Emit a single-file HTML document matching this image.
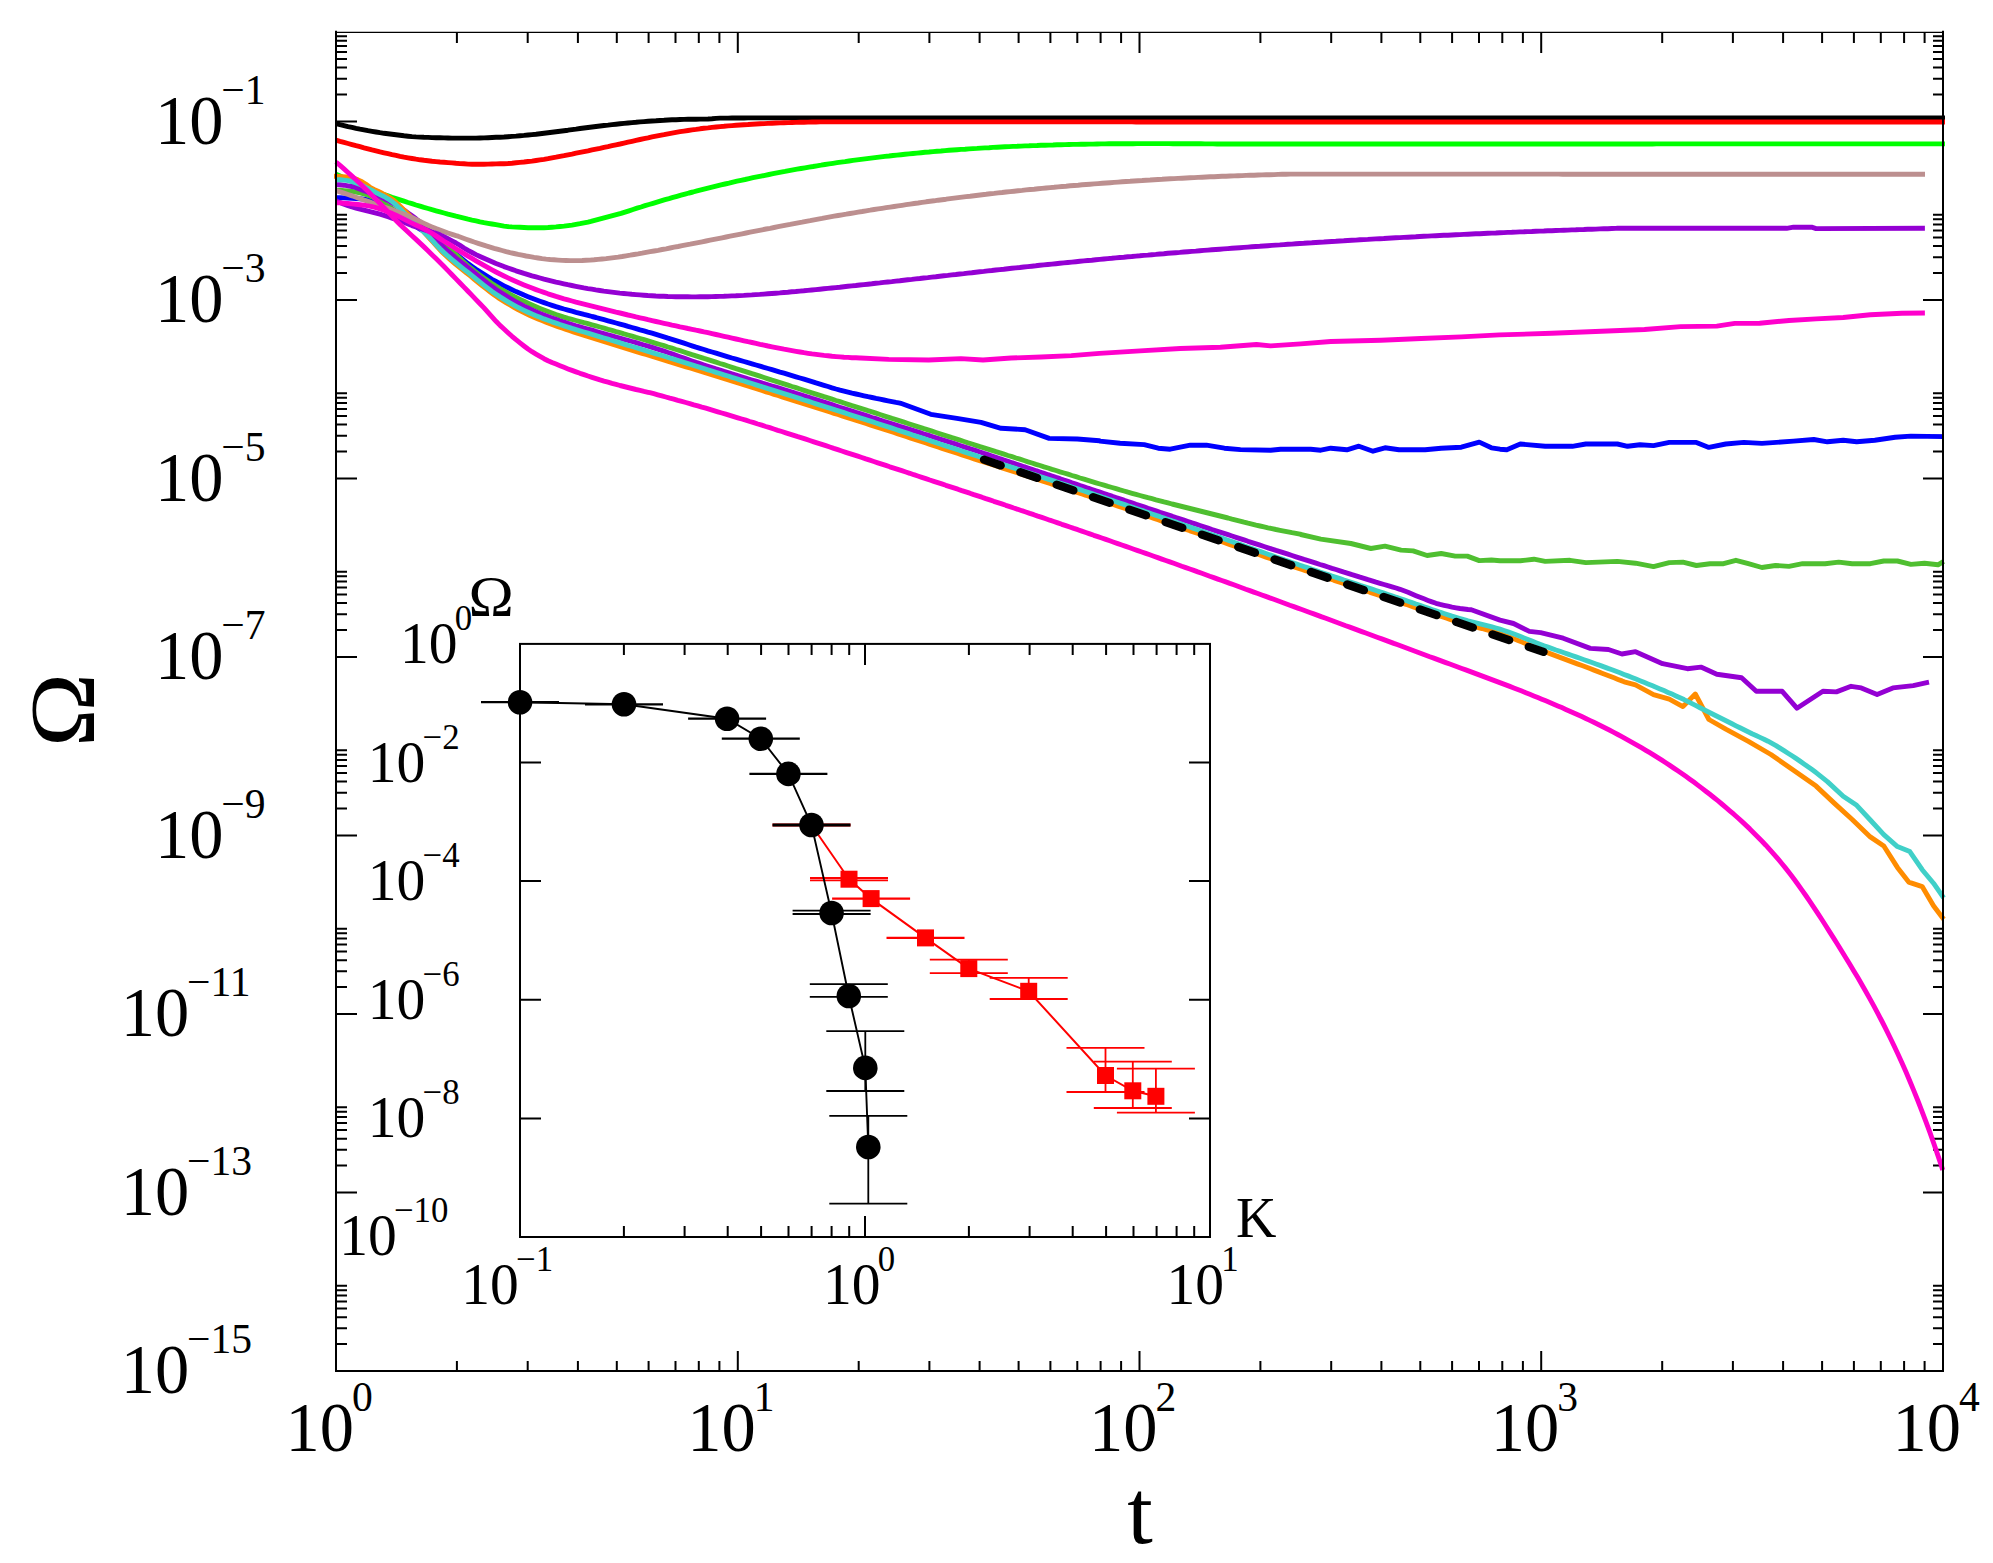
<!DOCTYPE html>
<html><head><meta charset="utf-8"><title>Omega vs t</title>
<style>html,body{margin:0;padding:0;background:#fff}svg{display:block}text{font-family:"Liberation Serif",serif;fill:#000}</style></head><body>
<svg width="1993" height="1563" viewBox="0 0 1993 1563">
<rect width="1993" height="1563" fill="#fff"/>
<g stroke="#000" stroke-width="2" fill="none" stroke-linecap="butt">
<path d="M456.9 1370.9 v-10 M456.9 32.1 v11 M527.7 1370.9 v-10 M527.7 32.1 v11 M577.9 1370.9 v-10 M577.9 32.1 v11 M616.8 1370.9 v-10 M616.8 32.1 v11 M648.6 1370.9 v-10 M648.6 32.1 v11 M675.5 1370.9 v-10 M675.5 32.1 v11 M698.8 1370.9 v-10 M698.8 32.1 v11 M719.4 1370.9 v-10 M719.4 32.1 v11 M737.8 1370.9 v-20 M737.8 32.1 v21 M858.7 1370.9 v-10 M858.7 32.1 v11 M929.4 1370.9 v-10 M929.4 32.1 v11 M979.6 1370.9 v-10 M979.6 32.1 v11 M1018.6 1370.9 v-10 M1018.6 32.1 v11 M1050.4 1370.9 v-10 M1050.4 32.1 v11 M1077.3 1370.9 v-10 M1077.3 32.1 v11 M1100.6 1370.9 v-10 M1100.6 32.1 v11 M1121.1 1370.9 v-10 M1121.1 32.1 v11 M1139.5 1370.9 v-20 M1139.5 32.1 v21 M1260.4 1370.9 v-10 M1260.4 32.1 v11 M1331.2 1370.9 v-10 M1331.2 32.1 v11 M1381.4 1370.9 v-10 M1381.4 32.1 v11 M1420.3 1370.9 v-10 M1420.3 32.1 v11 M1452.1 1370.9 v-10 M1452.1 32.1 v11 M1479 1370.9 v-10 M1479 32.1 v11 M1502.3 1370.9 v-10 M1502.3 32.1 v11 M1522.9 1370.9 v-10 M1522.9 32.1 v11 M1541.2 1370.9 v-20 M1541.2 32.1 v21 M1662.2 1370.9 v-10 M1662.2 32.1 v11 M1732.9 1370.9 v-10 M1732.9 32.1 v11 M1783.1 1370.9 v-10 M1783.1 32.1 v11 M1822.1 1370.9 v-10 M1822.1 32.1 v11 M1853.9 1370.9 v-10 M1853.9 32.1 v11 M1880.8 1370.9 v-10 M1880.8 32.1 v11 M1904.1 1370.9 v-10 M1904.1 32.1 v11 M1924.6 1370.9 v-10 M1924.6 32.1 v11 M336.0 121.4 h21 M1943.0 121.4 h-20 M336.0 94.5 h11 M1943.0 94.5 h-10 M336.0 78.8 h11 M1943.0 78.8 h-10 M336.0 67.6 h11 M1943.0 67.6 h-10 M336.0 59 h11 M1943.0 59 h-10 M336.0 51.9 h11 M1943.0 51.9 h-10 M336.0 45.9 h11 M1943.0 45.9 h-10 M336.0 40.7 h11 M1943.0 40.7 h-10 M336.0 36.2 h11 M1943.0 36.2 h-10 M336.0 299.9 h21 M1943.0 299.9 h-20 M336.0 273 h11 M1943.0 273 h-10 M336.0 257.3 h11 M1943.0 257.3 h-10 M336.0 246.1 h11 M1943.0 246.1 h-10 M336.0 237.5 h11 M1943.0 237.5 h-10 M336.0 230.4 h11 M1943.0 230.4 h-10 M336.0 224.4 h11 M1943.0 224.4 h-10 M336.0 219.3 h11 M1943.0 219.3 h-10 M336.0 214.7 h11 M1943.0 214.7 h-10 M336.0 478.4 h21 M1943.0 478.4 h-20 M336.0 451.5 h11 M1943.0 451.5 h-10 M336.0 435.8 h11 M1943.0 435.8 h-10 M336.0 424.6 h11 M1943.0 424.6 h-10 M336.0 416 h11 M1943.0 416 h-10 M336.0 408.9 h11 M1943.0 408.9 h-10 M336.0 402.9 h11 M1943.0 402.9 h-10 M336.0 397.8 h11 M1943.0 397.8 h-10 M336.0 393.2 h11 M1943.0 393.2 h-10 M336.0 656.9 h21 M1943.0 656.9 h-20 M336.0 630 h11 M1943.0 630 h-10 M336.0 614.3 h11 M1943.0 614.3 h-10 M336.0 603.1 h11 M1943.0 603.1 h-10 M336.0 594.5 h11 M1943.0 594.5 h-10 M336.0 587.4 h11 M1943.0 587.4 h-10 M336.0 581.4 h11 M1943.0 581.4 h-10 M336.0 576.3 h11 M1943.0 576.3 h-10 M336.0 571.7 h11 M1943.0 571.7 h-10 M336.0 835.4 h21 M1943.0 835.4 h-20 M336.0 808.5 h11 M1943.0 808.5 h-10 M336.0 792.8 h11 M1943.0 792.8 h-10 M336.0 781.6 h11 M1943.0 781.6 h-10 M336.0 773 h11 M1943.0 773 h-10 M336.0 765.9 h11 M1943.0 765.9 h-10 M336.0 760 h11 M1943.0 760 h-10 M336.0 754.8 h11 M1943.0 754.8 h-10 M336.0 750.2 h11 M1943.0 750.2 h-10 M336.0 1013.9 h21 M1943.0 1013.9 h-20 M336.0 987 h11 M1943.0 987 h-10 M336.0 971.3 h11 M1943.0 971.3 h-10 M336.0 960.2 h11 M1943.0 960.2 h-10 M336.0 951.5 h11 M1943.0 951.5 h-10 M336.0 944.4 h11 M1943.0 944.4 h-10 M336.0 938.5 h11 M1943.0 938.5 h-10 M336.0 933.3 h11 M1943.0 933.3 h-10 M336.0 928.7 h11 M1943.0 928.7 h-10 M336.0 1192.4 h21 M1943.0 1192.4 h-20 M336.0 1165.5 h11 M1943.0 1165.5 h-10 M336.0 1149.8 h11 M1943.0 1149.8 h-10 M336.0 1138.7 h11 M1943.0 1138.7 h-10 M336.0 1130 h11 M1943.0 1130 h-10 M336.0 1122.9 h11 M1943.0 1122.9 h-10 M336.0 1117 h11 M1943.0 1117 h-10 M336.0 1111.8 h11 M1943.0 1111.8 h-10 M336.0 1107.2 h11 M1943.0 1107.2 h-10 M336.0 1344 h11 M1943.0 1344 h-10 M336.0 1328.3 h11 M1943.0 1328.3 h-10 M336.0 1317.2 h11 M1943.0 1317.2 h-10 M336.0 1308.5 h11 M1943.0 1308.5 h-10 M336.0 1301.4 h11 M1943.0 1301.4 h-10 M336.0 1295.5 h11 M1943.0 1295.5 h-10 M336.0 1290.3 h11 M1943.0 1290.3 h-10 M336.0 1285.7 h11 M1943.0 1285.7 h-10"/>
</g>
<g fill="none" stroke-width="4.9" stroke-linejoin="round" stroke-linecap="butt">
<path d="M336 123.7 L340 124.7 L344 125.6 L348 126.6 L352 127.4 L356 128.3 L360 129.1 L364 129.8 L368 130.6 L372 131.3 L376 132 L380 132.7 L384 133.3 L388 133.8 L392 134.3 L396 134.8 L400 135.3 L404 135.8 L408 136.2 L412 136.6 L416 136.9 L420 137.1 L424 137.3 L428 137.4 L432 137.6 L436 137.7 L440 137.8 L444 137.9 L448 138 L452 138.1 L456 138.1 L460 138.1 L464 138.1 L468 138.1 L472 138.1 L476 138.1 L480 138 L484 137.9 L488 137.7 L492 137.5 L496 137.3 L500 137.2 L504 137 L508 136.7 L512 136.4 L516 136.1 L520 135.7 L524 135.4 L528 135 L532 134.6 L536 134.2 L540 133.7 L544 133.2 L548 132.7 L552 132.2 L556 131.7 L560 131.2 L564 130.7 L568 130.2 L572 129.6 L576 129.1 L580 128.5 L584 128 L588 127.5 L592 127 L596 126.5 L600 126 L604 125.5 L608 125.1 L612 124.6 L616 124.2 L620 123.8 L624 123.4 L628 123 L632 122.6 L636 122.3 L640 121.9 L644 121.6 L648 121.3 L652 121 L656 120.8 L660 120.5 L664 120.3 L668 120 L672 119.8 L676 119.7 L680 119.5 L684 119.4 L688 119.3 L692 119.3 L696 119.2 L700 119.1 L704 119.1 L708 119 L712 118.8 L716 118.4 L720 118.1 L724 118.1 L728 118.1 L732 118 L736 118 L740 118 L744 118 L748 117.9 L752 117.9 L756 117.9 L760 117.9 L764 117.9 L768 117.9 L772 117.9 L776 117.9 L780 117.9 L784 117.9 L788 117.9 L792 117.9 L796 117.9 L800 117.9 L804 117.9 L808 117.9 L812 117.9 L816 117.9 L820 117.9 L824 117.9 L828 117.9 L832 117.9 L836 117.9 L840 117.9 L844 117.9 L848 117.9 L852 117.9 L856 117.9 L860 117.9 L864 117.9 L868 117.9 L872 117.9 L876 117.9 L880 117.9 L884 117.9 L888 117.9 L892 117.9 L896 117.9 L900 117.9 L904 117.9 L908 117.9 L912 117.9 L916 117.9 L920 117.9 L924 117.9 L928 117.9 L932 117.9 L936 117.9 L940 117.9 L944 117.9 L948 117.9 L952 117.9 L956 117.9 L960 117.9 L964 117.9 L968 117.9 L972 117.9 L976 117.9 L980 117.9 L984 117.9 L988 117.9 L992 117.9 L996 117.9 L1000 117.9 L1004 117.9 L1008 117.9 L1012 117.9 L1016 117.9 L1020 117.9 L1024 117.9 L1028 117.9 L1032 117.9 L1036 117.9 L1040 117.9 L1044 117.9 L1048 117.9 L1052 117.9 L1056 117.9 L1060 117.9 L1064 117.9 L1068 117.9 L1072 117.9 L1076 117.9 L1080 117.9 L1084 117.9 L1088 117.9 L1092 117.9 L1096 117.9 L1100 117.9 L1104 117.9 L1108 117.9 L1112 117.9 L1116 117.9 L1120 117.9 L1124 117.9 L1128 117.9 L1132 117.9 L1136 117.9 L1140 117.9 L1144 117.9 L1148 117.9 L1152 117.9 L1156 117.9 L1160 117.9 L1164 117.9 L1168 117.9 L1172 117.9 L1176 117.9 L1180 117.9 L1184 117.9 L1188 117.9 L1192 117.9 L1196 117.9 L1200 117.9 L1204 117.9 L1208 117.9 L1212 117.9 L1216 117.9 L1220 117.9 L1224 117.9 L1228 117.9 L1232 117.9 L1236 117.9 L1240 117.9 L1244 117.9 L1248 117.9 L1252 117.9 L1256 117.9 L1260 117.9 L1264 117.9 L1268 117.9 L1272 117.9 L1276 117.9 L1280 117.9 L1284 117.9 L1288 117.9 L1292 117.9 L1296 117.9 L1300 117.9 L1304 117.9 L1308 117.9 L1312 117.9 L1316 117.9 L1320 117.9 L1324 117.9 L1328 117.9 L1332 117.9 L1336 117.9 L1340 117.9 L1344 117.9 L1348 117.9 L1352 117.9 L1356 117.9 L1360 117.9 L1364 117.9 L1368 117.9 L1372 117.9 L1376 117.9 L1380 117.9 L1384 117.9 L1388 117.9 L1392 117.9 L1396 117.9 L1400 117.9 L1404 117.9 L1408 117.9 L1412 117.9 L1416 117.9 L1420 117.9 L1424 117.9 L1428 117.9 L1432 117.9 L1436 117.9 L1440 117.9 L1444 117.9 L1448 117.9 L1452 117.9 L1456 117.9 L1460 117.9 L1464 117.9 L1468 117.9 L1472 117.9 L1476 117.9 L1480 117.9 L1484 117.9 L1488 117.9 L1492 117.9 L1496 117.9 L1500 117.9 L1504 117.9 L1508 117.9 L1512 117.9 L1516 117.9 L1520 117.9 L1524 117.9 L1528 117.9 L1532 117.9 L1536 117.9 L1540 117.9 L1544 117.9 L1548 117.9 L1552 117.9 L1556 117.9 L1560 117.9 L1564 117.9 L1568 117.9 L1572 117.9 L1576 117.9 L1580 117.9 L1584 117.9 L1588 117.9 L1592 117.9 L1596 117.9 L1600 117.9 L1604 117.9 L1608 117.9 L1612 117.9 L1616 117.9 L1620 117.9 L1624 117.9 L1628 117.9 L1632 117.9 L1636 117.9 L1640 117.9 L1644 117.9 L1648 117.9 L1652 117.9 L1656 117.9 L1660 117.9 L1664 117.9 L1668 117.9 L1672 117.9 L1676 117.9 L1680 117.9 L1684 117.9 L1688 117.9 L1692 117.9 L1696 117.9 L1700 117.9 L1704 117.9 L1708 117.9 L1712 117.9 L1716 117.9 L1720 117.9 L1724 117.9 L1728 117.9 L1732 117.9 L1736 117.9 L1740 117.9 L1744 117.9 L1748 117.9 L1752 117.9 L1756 117.9 L1760 117.9 L1764 117.9 L1768 117.9 L1772 117.9 L1776 117.9 L1780 117.9 L1784 117.9 L1788 117.9 L1792 117.9 L1796 117.9 L1800 117.9 L1804 117.9 L1808 117.9 L1812 117.9 L1816 117.9 L1820 117.9 L1824 117.9 L1828 117.9 L1832 117.9 L1836 117.9 L1840 117.9 L1844 117.9 L1848 117.9 L1852 117.9 L1856 117.9 L1860 117.9 L1864 117.9 L1868 117.9 L1872 117.9 L1876 117.9 L1880 117.9 L1884 117.9 L1888 117.9 L1892 117.9 L1896 117.9 L1900 117.9 L1904 117.9 L1908 117.9 L1912 117.9 L1916 117.9 L1920 117.9 L1924 117.9 L1928 117.9 L1932 117.9 L1936 117.9 L1940 117.9 L1944 117.9 L1945 117.9" stroke="#000000"/>
<path d="M336 140.1 L340 141.3 L344 142.4 L348 143.5 L352 144.6 L356 145.7 L360 146.7 L364 147.8 L368 148.8 L372 149.9 L376 150.9 L380 151.9 L384 152.8 L388 153.7 L392 154.6 L396 155.4 L400 156.3 L404 157.1 L408 157.8 L412 158.5 L416 159.2 L420 159.8 L424 160.3 L428 160.7 L432 161.2 L436 161.6 L440 162 L444 162.3 L448 162.6 L452 162.9 L456 163.3 L460 163.6 L464 163.8 L468 164.1 L472 164.2 L476 164.2 L480 164.2 L484 164.2 L488 164.1 L492 164 L496 163.9 L500 163.8 L504 163.7 L508 163.5 L512 163.2 L516 162.8 L520 162.4 L524 162 L528 161.5 L532 161.1 L536 160.5 L540 159.9 L544 159.3 L548 158.6 L552 157.8 L556 157.1 L560 156.3 L564 155.6 L568 154.8 L572 154.1 L576 153.2 L580 152.4 L584 151.6 L588 150.8 L592 149.9 L596 149.1 L600 148.3 L604 147.4 L608 146.6 L612 145.7 L616 144.8 L620 144 L624 143.1 L628 142.2 L632 141.3 L636 140.4 L640 139.5 L644 138.6 L648 137.8 L652 136.9 L656 136.1 L660 135.3 L664 134.6 L668 133.8 L672 133.1 L676 132.4 L680 131.7 L684 131.1 L688 130.5 L692 129.9 L696 129.4 L700 128.8 L704 128.3 L708 127.9 L712 127.4 L716 127 L720 126.6 L724 126.3 L728 125.9 L732 125.6 L736 125.3 L740 125 L744 124.7 L748 124.5 L752 124.2 L756 124 L760 123.8 L764 123.6 L768 123.4 L772 123.2 L776 123 L780 122.9 L784 122.7 L788 122.6 L792 122.5 L796 122.4 L800 122.3 L804 122.2 L808 122.1 L812 122 L816 122 L820 121.9 L824 121.9 L828 121.9 L832 121.9 L836 121.9 L840 121.9 L844 121.9 L848 121.9 L852 121.9 L856 121.9 L860 121.9 L864 121.9 L868 121.9 L872 121.9 L876 121.9 L880 121.9 L884 121.9 L888 121.9 L892 121.9 L896 121.9 L900 121.9 L904 121.9 L908 121.9 L912 121.9 L916 121.9 L920 121.9 L924 121.9 L928 121.9 L932 121.9 L936 121.9 L940 121.9 L944 121.9 L948 121.9 L952 121.9 L956 121.9 L960 121.9 L964 121.9 L968 121.9 L972 121.9 L976 121.9 L980 121.9 L984 121.9 L988 121.9 L992 121.9 L996 121.9 L1000 121.9 L1004 121.9 L1008 121.9 L1012 121.9 L1016 121.9 L1020 121.9 L1024 121.9 L1028 121.9 L1032 121.9 L1036 121.9 L1040 121.9 L1044 121.9 L1048 121.9 L1052 121.9 L1056 121.9 L1060 121.9 L1064 121.9 L1068 121.9 L1072 121.9 L1076 121.9 L1080 121.9 L1084 121.9 L1088 121.9 L1092 121.9 L1096 121.9 L1100 121.9 L1104 121.9 L1108 121.9 L1112 121.9 L1116 121.9 L1120 121.9 L1124 121.9 L1128 121.9 L1132 121.9 L1136 122 L1140 122 L1144 122 L1148 122 L1152 122 L1156 122 L1160 122 L1164 122 L1168 122 L1172 122 L1176 122 L1180 122 L1184 122 L1188 122 L1192 122 L1196 122 L1200 122 L1204 122 L1208 122 L1212 122 L1216 122 L1220 122 L1224 122 L1228 122 L1232 122 L1236 122 L1240 122 L1244 122 L1248 122 L1252 122 L1256 122 L1260 122 L1264 122 L1268 122 L1272 122 L1276 122 L1280 122 L1284 122 L1288 122 L1292 122 L1296 122 L1300 122 L1304 122 L1308 122 L1312 122 L1316 122 L1320 122 L1324 122 L1328 122 L1332 122 L1336 122 L1340 122 L1344 122 L1348 122 L1352 122 L1356 122 L1360 122 L1364 122 L1368 122 L1372 122 L1376 122 L1380 122 L1384 122 L1388 122 L1392 122 L1396 122 L1400 122 L1404 122 L1408 122 L1412 122 L1416 122 L1420 122 L1424 122 L1428 122 L1432 122 L1436 122 L1440 122 L1444 122 L1448 122 L1452 122 L1456 122 L1460 122 L1464 122 L1468 122 L1472 122 L1476 122 L1480 122 L1484 122 L1488 122 L1492 122 L1496 122 L1500 122 L1504 122 L1508 122 L1512 122 L1516 122 L1520 122 L1524 122 L1528 122 L1532 122 L1536 122 L1540 122 L1544 122 L1548 122 L1552 122 L1556 122 L1560 122 L1564 122 L1568 122 L1572 122 L1576 122 L1580 122 L1584 122 L1588 122 L1592 122 L1596 122 L1600 122 L1604 122 L1608 122 L1612 122 L1616 122 L1620 122 L1624 122 L1628 122 L1632 122 L1636 122 L1640 122 L1644 122 L1648 122 L1652 122 L1656 122 L1660 122 L1664 122 L1668 122 L1672 122 L1676 122 L1680 122 L1684 122 L1688 122 L1692 122 L1696 122 L1700 122 L1704 122 L1708 122 L1712 122 L1716 122 L1720 122 L1724 122 L1728 122 L1732 122 L1736 122 L1740 122 L1744 122 L1748 122 L1752 122 L1756 122 L1760 122 L1764 122 L1768 122 L1772 122 L1776 122 L1780 122 L1784 122 L1788 122 L1792 122 L1796 122 L1800 122 L1804 122 L1808 122 L1812 122 L1816 122 L1820 122 L1824 122 L1828 122 L1832 122 L1836 122 L1840 122 L1844 122 L1848 122 L1852 122 L1856 122 L1860 122 L1864 122 L1868 122 L1872 122 L1876 122 L1880 122 L1884 122 L1888 122 L1892 122 L1896 122 L1900 122 L1904 122 L1908 122 L1912 122 L1916 122 L1920 122 L1924 122 L1928 122 L1932 122 L1936 122 L1940 122 L1944 122 L1945 122" stroke="#ff0000"/>
<path d="M336 174.1 L340 176 L344 177.9 L348 179.8 L352 181.6 L356 183.4 L360 185.1 L364 186.8 L368 188.4 L372 189.9 L376 191.5 L380 193 L384 194.5 L388 195.9 L392 197.3 L396 198.6 L400 199.9 L404 201.2 L408 202.5 L412 203.7 L416 205 L420 206.2 L424 207.4 L428 208.5 L432 209.7 L436 210.8 L440 211.9 L444 213 L448 214.1 L452 215.1 L456 216.2 L460 217.2 L464 218.2 L468 219.2 L472 220.1 L476 220.9 L480 221.8 L484 222.6 L488 223.3 L492 224 L496 224.7 L500 225.4 L504 226.1 L508 226.6 L512 226.9 L516 227.1 L520 227.3 L524 227.5 L528 227.7 L532 227.8 L536 227.8 L540 227.8 L544 227.7 L548 227.5 L552 227.2 L556 226.9 L560 226.5 L564 226.1 L568 225.6 L572 225.1 L576 224.4 L580 223.7 L584 222.9 L588 222.1 L590.9 221.4 L621 213.4 L625 212.1 L629 210.8 L633 209.5 L637 208.2 L641 207 L645 205.7 L649 204.5 L653 203.3 L657 202.1 L661 200.9 L665 199.7 L669 198.6 L673 197.4 L677 196.3 L681 195.2 L685 194.1 L689 193 L693 192 L697 190.9 L701 189.9 L705 188.9 L709 187.9 L713 186.9 L717 185.9 L721 184.9 L725 184 L729 183.1 L733 182.1 L737 181.2 L741 180.3 L745 179.5 L749 178.6 L753 177.7 L757 176.9 L761 176.1 L765 175.3 L769 174.5 L773 173.7 L777 172.9 L781 172.1 L785 171.4 L789 170.6 L793 169.9 L797 169.2 L801 168.5 L805 167.8 L809 167.1 L813 166.5 L817 165.8 L821 165.2 L825 164.5 L829 163.9 L833 163.3 L837 162.7 L841 162.1 L845 161.6 L849 161 L853 160.4 L857 159.9 L861 159.4 L865 158.9 L869 158.4 L873 157.9 L877 157.4 L881 156.9 L885 156.4 L889 156 L893 155.5 L897 155.1 L901 154.7 L905 154.3 L909 153.9 L913 153.5 L917 153.1 L921 152.7 L925 152.3 L929 152 L933 151.6 L937 151.3 L941 151 L945 150.6 L949 150.3 L953 150 L957 149.7 L961 149.4 L965 149.2 L969 148.9 L973 148.6 L977 148.4 L981 148.1 L985 147.9 L989 147.7 L993 147.4 L997 147.2 L1001 147 L1005 146.8 L1009 146.6 L1013 146.4 L1017 146.3 L1021 146.1 L1025 145.9 L1029 145.8 L1033 145.6 L1037 145.5 L1041 145.3 L1045 145.2 L1049 145.1 L1053 145 L1057 144.8 L1061 144.7 L1065 144.6 L1069 144.5 L1073 144.4 L1077 144.4 L1081 144.3 L1085 144.2 L1089 144.1 L1093 144.1 L1097 144 L1101 143.9 L1105 143.9 L1109 143.8 L1113 143.8 L1117 143.8 L1121 143.7 L1125 143.7 L1129 143.7 L1133 143.7 L1137 143.6 L1141 143.6 L1145 143.6 L1149 143.6 L1153 143.6 L1157 143.6 L1161 143.6 L1165 143.6 L1169 143.6 L1173 143.7 L1177 143.7 L1181 143.7 L1185 143.7 L1189 143.7 L1193 143.8 L1197 143.8 L1201 143.8 L1205 143.9 L1209 143.9 L1213 143.9 L1217 144 L1220.4 144 L1224.4 144 L1228.4 144 L1232.4 144 L1236.4 144 L1240.4 144 L1244.4 144 L1248.4 144 L1252.4 144 L1256.4 144 L1260.4 144 L1264.4 144 L1268.4 144 L1272.4 144 L1276.4 144 L1280.4 144 L1284.4 144 L1288.4 144 L1292.4 144 L1296.4 144 L1300.4 144 L1304.4 144 L1308.4 144 L1312.4 144 L1316.4 144 L1320.4 144 L1324.4 144 L1328.4 144 L1332.4 144 L1336.4 144 L1340.4 144 L1344.4 144 L1348.4 144 L1352.4 144 L1356.4 144 L1360.4 144 L1364.4 144 L1368.4 144 L1372.4 144 L1376.4 144 L1380.4 144 L1384.4 144 L1388.4 144 L1392.4 144 L1396.4 144 L1400.4 144 L1404.4 144 L1408.4 144 L1412.4 144 L1416.4 144 L1420.4 144 L1424.4 144 L1428.4 144 L1432.4 144 L1436.4 144 L1440.4 144 L1444.4 144 L1448.4 144 L1452.4 144 L1456.4 144 L1460.4 144 L1464.4 144 L1468.4 144 L1472.4 144 L1476.4 144 L1480.4 144 L1484.4 144 L1488.4 144 L1492.4 144 L1496.4 144 L1500.4 144 L1504.4 144 L1508.4 144 L1512.4 144 L1516.4 144 L1520.4 144 L1524.4 144 L1528.4 144 L1532.4 144 L1536.4 144 L1540.4 144 L1544.4 144 L1548.4 144 L1552.4 144 L1556.4 144 L1560.4 144 L1564.4 144 L1568.4 144 L1572.4 144 L1576.4 144 L1580.4 144 L1584.4 144 L1588.4 144 L1592.4 144 L1596.4 144 L1600.4 144 L1604.4 144 L1608.4 144 L1612.4 144 L1616.4 144 L1620.4 144 L1624.4 144 L1628.4 144 L1632.4 144 L1636.4 144 L1640.4 144 L1644.4 144 L1648.4 144 L1652.4 144 L1656.4 143.9 L1660.4 143.9 L1664.4 143.9 L1668.4 143.9 L1672.4 143.9 L1676.4 143.9 L1680.4 143.9 L1684.4 143.9 L1688.4 143.9 L1692.4 143.9 L1696.4 143.9 L1700.4 143.9 L1704.4 143.9 L1708.4 143.9 L1712.4 143.9 L1716.4 143.9 L1720.4 143.9 L1724.4 143.9 L1728.4 143.9 L1732.4 143.9 L1736.4 143.9 L1740.4 143.9 L1744.4 143.9 L1748.4 143.9 L1752.4 143.9 L1756.4 143.9 L1760.4 143.9 L1764.4 143.9 L1768.4 143.9 L1772.4 143.9 L1776.4 143.9 L1780.4 143.9 L1784.4 143.9 L1788.4 143.9 L1792.4 143.9 L1796.4 143.9 L1800.4 143.9 L1804.4 143.9 L1808.4 143.9 L1812.4 143.9 L1816.4 143.9 L1820.4 143.9 L1824.4 143.9 L1828.4 143.9 L1832.4 143.9 L1836.4 143.9 L1840.4 143.9 L1844.4 143.9 L1848.4 143.9 L1852.4 143.9 L1856.4 143.9 L1860.4 143.9 L1864.4 143.9 L1868.4 143.9 L1872.4 143.9 L1876.4 143.9 L1880.4 143.9 L1884.4 143.9 L1888.4 143.9 L1892.4 143.9 L1896.4 143.9 L1900.4 143.9 L1904.4 143.9 L1908.4 143.9 L1912.4 143.9 L1916.4 143.9 L1920.4 143.9 L1924.4 143.9 L1928.4 143.9 L1932.4 143.9 L1936.4 143.9 L1940.4 143.9 L1944.4 143.9 L1945 143.9" stroke="#00ff00"/>
<path d="M336 197.7 L340 197.8 L344 197.9 L348 198.1 L352 198.3 L356 198.5 L360 198.7 L364 199.1 L368 199.8 L372 201.3 L376 203.2 L380 205.1 L384 207 L388 208.9 L392 211 L396 213.2 L400 215.6 L404 218.2 L408 221 L412 223.8 L416 226.5 L420 229.1 L424 231.5 L428 233.8 L432 236.1 L436 238.7 L440 241.5 L444 244.5 L448 247.6 L452 250.7 L456 253.9 L460 257.2 L464 260.5 L468 263.6 L472 266.4 L476 269.2 L480 271.8 L484 274.4 L488 276.9 L492 279.3 L496 281.5 L500 283.7 L504 285.8 L508 287.8 L512 289.7 L516 291.6 L520 293.3 L524 295.1 L528 296.7 L532 298.3 L536 299.8 L540 301.2 L544 302.6 L548 304 L552 305.3 L556 306.6 L560 307.8 L564 309 L568 310.1 L572 311.2 L576 312.3 L580 313.3 L584 314.4 L588 315.4 L592 316.5 L596 317.5 L600 318.6 L604 319.7 L608 320.8 L612 321.9 L616 323 L620 324.1 L624 325.2 L628 326.4 L632 327.5 L636 328.6 L640 329.8 L644 330.9 L648 332.1 L652 333.2 L656 334.4 L660 335.6 L664 336.8 L668 338.1 L672 339.3 L676 340.6 L680 341.9 L684 343.2 L688 344.5 L692 345.8 L696 347.1 L700 348.3 L704 349.5 L708 350.8 L712 352 L716 353.2 L720 354.4 L724 355.6 L728 356.8 L732 358 L736 359.1 L740 360.3 L744 361.5 L748 362.7 L752 363.8 L756 365 L760 366.2 L764 367.4 L768 368.5 L772 369.7 L776 370.9 L780 372.1 L784 373.2 L788 374.4 L792 375.6 L796 376.8 L800 378 L804 379.2 L808 380.4 L812 381.6 L816 382.9 L820 384.1 L824 385.3 L828 386.5 L832 387.8 L836 389 L840 390.1 L844 391.1 L848 392.1 L852 393.1 L856 394 L860 394.9 L864 395.8 L868 396.7 L872 397.5 L876 398.4 L880 399.2 L884 400 L888 400.8 L892 401.6 L896 402.4 L900 403.1 L900.7 403.3 L930.8 414.3 L956.9 418.3 L981 422.3 L1001.1 428.3 L1025.1 429.7 L1049.2 438.4 L1077.3 439 L1099.4 440.8 L1100 441.1 L1120.1 443.2 L1144.2 444.6 L1158.2 448.2 L1170.2 449.2 L1190.3 445.2 L1206.4 445.2 L1224.4 448.2 L1240.5 449.6 L1270.6 450.2 L1280.6 449.2 L1310.7 449.2 L1320.8 450.2 L1330.8 448.2 L1346.9 449.8 L1358.9 446.2 L1373 451.2 L1385 447.8 L1399 449.8 L1425.1 449.8 L1441.2 448.2 L1461.3 447.2 L1479.3 442.1 L1491.4 447.8 L1500 449.2 L1506.8 449.7 L1520.3 444 L1545.2 446.3 L1572.3 446.3 L1585.8 444 L1617.4 444 L1627.6 446.3 L1640 444.7 L1653.5 445.6 L1669.3 442.4 L1696.4 442.4 L1708.9 447.4 L1725.8 444 L1743.8 442.4 L1761.9 443.4 L1793.5 441.1 L1813.8 439.5 L1827.4 441.8 L1843.2 440.2 L1856.7 441.8 L1874.8 440.2 L1895.1 437.3 L1910.9 436.1 L1943.7 436.6" stroke="#0000ff"/>
<path d="M336 190.1 L340 190.3 L344 190.6 L348 190.9 L352 191.4 L356 192 L360 192.8 L364 193.9 L368 195.1 L372 196.9 L376 198.9 L380 201.1 L384 203.4 L388 205.9 L392 208.6 L396 211.3 L400 214.1 L404 216.8 L408 219.7 L412 222.6 L416 225.4 L420 228.1 L424 230.5 L428 232.8 L432 235 L436 237.4 L440 240 L444 243.1 L448 246.6 L452 250.4 L456 254.4 L460 258.4 L464 262.2 L468 265.8 L472 269 L476 272.1 L480 275.1 L484 278 L488 280.8 L492 283.5 L496 286 L500 288.5 L504 290.8 L508 293.1 L512 295.3 L516 297.4 L520 299.4 L524 301.3 L528 303.2 L532 305 L536 306.7 L540 308.4 L544 310 L548 311.5 L552 313 L556 314.5 L560 315.8 L564 317.1 L568 318.3 L572 319.4 L576 320.5 L580 321.6 L584 322.7 L588 323.7 L592 324.8 L596 325.9 L600 327 L604 328.1 L608 329.3 L612 330.4 L616 331.6 L620 332.7 L624 333.9 L628 335 L632 336.2 L636 337.4 L640 338.5 L644 339.7 L648 340.9 L652 342.1 L656 343.3 L660 344.5 L664 345.7 L668 347 L672 348.2 L676 349.5 L680 350.7 L684 352 L688 353.3 L692 354.6 L696 355.8 L700 357.1 L704 358.4 L708 359.6 L712 360.9 L716 362.2 L720 363.5 L724 364.7 L728 366 L732 367.3 L736 368.6 L740 369.8 L744 371.1 L748 372.4 L752 373.7 L756 374.9 L760 376.2 L764 377.5 L768 378.8 L772 380.1 L776 381.3 L780 382.6 L784 383.9 L788 385.2 L792 386.5 L796 387.7 L800 389 L804 390.3 L808 391.6 L812 392.8 L816 394.1 L820 395.4 L824 396.7 L828 397.9 L832 399.2 L836 400.5 L840 401.7 L844 403 L848 404.3 L852 405.6 L856 406.8 L860 408.1 L864 409.4 L868 410.7 L872 411.9 L876 413.2 L880 414.5 L884 415.8 L888 417.1 L892 418.4 L896 419.6 L900 420.9 L904 422.2 L908 423.5 L912 424.8 L916 426.1 L920 427.4 L924 428.7 L928 429.9 L932 431.2 L936 432.5 L940 433.8 L944 435.1 L948 436.4 L952 437.7 L956 438.9 L960 440.2 L964 441.5 L968 442.8 L972 444 L976 445.3 L980 446.6 L984 447.8 L988 449.1 L992 450.4 L996 451.7 L1000 452.9 L1004 454.2 L1008 455.5 L1012 456.7 L1016 458 L1020 459.2 L1024 460.5 L1028 461.8 L1032 463 L1036 464.3 L1040 465.5 L1044 466.8 L1048 468 L1052 469.3 L1056 470.5 L1060 471.8 L1064 473 L1068 474.2 L1072 475.5 L1076 476.7 L1080 478 L1084 479.2 L1088 480.4 L1092 481.6 L1096 482.8 L1100 484 L1104 485.2 L1108 486.4 L1112 487.5 L1116 488.7 L1120 489.9 L1124 491 L1128 492.2 L1132 493.3 L1136 494.4 L1140 495.5 L1144 496.6 L1148 497.7 L1152 498.7 L1156 499.8 L1160 500.8 L1164 501.9 L1168 502.9 L1172 504 L1176 505 L1180 506 L1184 507 L1188 508 L1192 509 L1196 510 L1200 511 L1204 512 L1208 513 L1212 514 L1216 515 L1220 516 L1224 517 L1228 518 L1232 519.1 L1236 520.1 L1240 521.1 L1244 522.2 L1248 523.2 L1252 524.1 L1256 525.1 L1260 526 L1264 526.9 L1268 527.8 L1272 528.6 L1276 529.5 L1280 530.3 L1284 531.1 L1288 531.9 L1292 532.7 L1296 533.4 L1300 534.2 L1300.7 534.3 L1300.7 534.5 L1320.8 539.1 L1350.9 543.5 L1370.9 548.5 L1385 546.1 L1401.1 550.1 L1413.1 550.9 L1427.1 555.5 L1441.2 553.5 L1455.2 556.1 L1467.3 556.1 L1479.3 560.6 L1491.4 560 L1500 560.8 L1520.3 560.8 L1533.9 559.2 L1545.2 561.4 L1570 560.3 L1585.8 562.6 L1617.4 561.4 L1635.5 563.2 L1653.5 566.6 L1669.3 562.6 L1682.9 562.1 L1696.4 565.5 L1710 563.7 L1723.5 563.7 L1735.9 560.3 L1748.4 563.7 L1761.9 567.5 L1775.5 565.5 L1789 566.4 L1802.6 563.7 L1825.1 563.7 L1838.7 562.1 L1852.2 563.7 L1870.3 563.7 L1883.8 561 L1897.4 561 L1910.9 564.4 L1924.5 563.2 L1938 564.8 L1943.7 561.4" stroke="#4fbf30"/>
<path d="M336 184.6 L340 184.8 L344 185.2 L348 185.8 L352 186.5 L356 187.7 L360 189.2 L364 190.7 L368 192.1 L372 193.5 L376 195 L380 196.6 L384 198.5 L388 200.5 L392 202.8 L396 205.1 L400 207.6 L404 210.1 L408 212.9 L412 215.8 L416 218.8 L420 222 L424 225.3 L428 228.9 L432 233.2 L436 238.5 L440 243.4 L444 247.5 L448 251.2 L452 254.7 L456 258.1 L460 261.3 L464 264.5 L468 267.6 L472 270.9 L476 274.1 L480 277.3 L484 280.5 L488 283.6 L492 286.6 L496 289.4 L500 292.1 L504 294.6 L508 297.1 L512 299.5 L516 301.8 L520 304 L524 306.1 L528 308 L532 309.9 L536 311.7 L540 313.4 L544 315 L548 316.5 L552 318 L556 319.4 L560 320.8 L564 322.1 L568 323.4 L572 324.6 L576 325.8 L580 326.9 L584 328 L588 329.1 L592 330.2 L596 331.4 L600 332.5 L604 333.7 L608 334.8 L612 335.9 L616 337 L620 338.2 L624 339.3 L628 340.4 L632 341.5 L636 342.6 L640 343.8 L644 345 L648 346.1 L652 347.3 L656 348.6 L660 349.8 L664 351.1 L668 352.5 L672 353.8 L676 355.3 L680 356.7 L684 358.1 L688 359.6 L692 361 L696 362.4 L700 363.7 L704 365 L708 366.3 L712 367.6 L716 368.9 L720 370.1 L724 371.4 L728 372.6 L732 373.9 L736 375.1 L740 376.3 L744 377.5 L748 378.8 L752 380 L756 381.2 L760 382.4 L764 383.6 L768 384.8 L772 386 L776 387.2 L780 388.4 L784 389.7 L788 390.9 L792 392.1 L796 393.4 L800 394.6 L804 395.9 L808 397.1 L812 398.4 L816 399.6 L820 400.9 L824 402.2 L828 403.4 L832 404.7 L836 406 L840 407.3 L844 408.5 L848 409.8 L852 411.1 L856 412.4 L860 413.6 L864 414.9 L868 416.2 L872 417.5 L876 418.7 L880 420 L884 421.3 L888 422.5 L892 423.8 L896 425.1 L900 426.4 L904 427.6 L908 428.9 L912 430.2 L916 431.4 L920 432.7 L924 434 L928 435.2 L932 436.5 L936 437.8 L940 439.1 L944 440.3 L948 441.6 L952 442.9 L956 444.2 L960 445.5 L964 446.8 L968 448.1 L972 449.4 L976 450.7 L980 452 L984 453.4 L988 454.7 L992 456 L996 457.3 L1000 458.7 L1004 460 L1008 461.3 L1012 462.7 L1016 464 L1020 465.3 L1024 466.7 L1028 468 L1032 469.3 L1036 470.7 L1040 472 L1044 473.3 L1048 474.7 L1052 476 L1056 477.4 L1060 478.7 L1064 480.1 L1068 481.4 L1072 482.8 L1076 484.1 L1080 485.5 L1084 486.8 L1088 488.2 L1092 489.5 L1096 490.9 L1100 492.2 L1104 493.5 L1108 494.9 L1112 496.2 L1116 497.6 L1120 498.9 L1124 500.2 L1128 501.6 L1132 502.9 L1136 504.3 L1140 505.6 L1144 506.9 L1148 508.3 L1152 509.6 L1156 510.9 L1160 512.3 L1164 513.6 L1168 514.9 L1172 516.2 L1176 517.6 L1180 518.9 L1184 520.2 L1188 521.5 L1192 522.9 L1196 524.2 L1200 525.5 L1204 526.8 L1208 528.1 L1212 529.5 L1216 530.8 L1220 532.1 L1224 533.4 L1228 534.7 L1232 536 L1236 537.3 L1240 538.6 L1244 539.9 L1248 541.3 L1252 542.6 L1256 543.9 L1260 545.2 L1264 546.5 L1268 547.8 L1272 549.1 L1276 550.4 L1280 551.6 L1284 552.9 L1288 554.2 L1292 555.5 L1296 556.8 L1300 558.1 L1304 559.4 L1308 560.6 L1312 561.9 L1316 563.2 L1320 564.5 L1324 565.7 L1328 567 L1332 568.3 L1336 569.5 L1340 570.8 L1344 572.1 L1348 573.3 L1352 574.6 L1356 575.8 L1360 577.1 L1364 578.3 L1368 579.6 L1372 580.8 L1376 582.1 L1380 583.3 L1384 584.5 L1388 585.7 L1392 586.8 L1396 588 L1400 589.3 L1404 590.8 L1408 592.3 L1412 594 L1416 595.7 L1420 597.3 L1424 598.8 L1428 600.4 L1432 601.9 L1436 603.3 L1440 604.4 L1444 605.3 L1448 606.2 L1452 607.1 L1456 607.8 L1460 608.5 L1464 609 L1468 609.5 L1471.3 609.7 L1471.3 609.7 L1500 620.1 L1513.5 623.5 L1529.4 631.4 L1540.6 632.6 L1563.2 638.2 L1590.3 648.4 L1608.4 649.5 L1621.9 654 L1635.5 651.7 L1662.6 663.7 L1687.4 668.7 L1700.9 667.1 L1716.8 674.3 L1741.6 677.7 L1756.3 691.3 L1782.2 691.3 L1796.9 708.2 L1822.9 691.3 L1836.4 691.9 L1851.1 686.3 L1861.3 687.9 L1877.1 694.6 L1892.9 687.9 L1913.2 685.6 L1929 682.2" stroke="#9400d3"/>
<path d="M334 176.3 L338 176.4 L342 176.6 L346 177 L350 177.4 L354 178.4 L358 179.9 L362 181.8 L366 184.3 L370 187.3 L374 189.5 L378 191.3 L382 193.3 L386 195.5 L390 197.8 L394 200.5 L398 204 L402 207.9 L406 211.9 L410 215.9 L414 220.3 L418 225 L422 229.8 L426 234.4 L430 238.8 L434 243.1 L438 247.7 L442 252 L446 255.8 L450 259.4 L454 262.8 L458 266.1 L462 269.3 L466 272.5 L470 275.7 L474 279 L478 282.3 L482 285.5 L486 288.7 L490 291.8 L494 294.8 L498 297.6 L502 300.1 L506 302.6 L510 305 L514 307.3 L518 309.5 L522 311.6 L526 313.6 L530 315.5 L534 317.3 L538 319 L542 320.6 L546 322.2 L550 323.7 L554 325.1 L558 326.6 L562 328 L566 329.4 L570 330.7 L574 332.1 L578 333.4 L582 334.6 L586 335.9 L590 337.2 L594 338.4 L598 339.7 L602 340.9 L606 342.2 L610 343.4 L614 344.7 L618 345.9 L622 347.2 L626 348.4 L630 349.6 L634 350.8 L638 352.1 L642 353.3 L646 354.5 L650 355.7 L654 357 L658 358.2 L662 359.4 L666 360.6 L670 361.9 L674 363.1 L678 364.3 L682 365.6 L686 366.8 L690 368 L694 369.2 L698 370.5 L702 371.7 L706 373 L710 374.2 L714 375.5 L718 376.7 L722 377.9 L726 379.2 L730 380.4 L734 381.7 L738 383 L742 384.2 L746 385.5 L750 386.7 L754 388 L758 389.2 L762 390.5 L766 391.8 L770 393 L774 394.3 L778 395.5 L782 396.8 L786 398.1 L790 399.3 L794 400.6 L798 401.9 L802 403.1 L806 404.4 L810 405.7 L814 406.9 L818 408.2 L822 409.5 L826 410.7 L830 412 L834 413.3 L838 414.5 L842 415.8 L846 417.1 L850 418.4 L854 419.6 L858 420.9 L862 422.2 L866 423.5 L870 424.8 L874 426.1 L878 427.4 L882 428.6 L886 429.9 L890 431.2 L894 432.5 L898 433.9 L902 435.2 L906 436.5 L910 437.8 L914 439.1 L918 440.4 L922 441.7 L926 443 L930 444.4 L934 445.7 L938 447 L942 448.3 L946 449.6 L950 450.9 L954 452.2 L958 453.5 L962 454.9 L966 456.2 L970 457.5 L974 458.8 L978 460.1 L982 461.4 L986 462.6 L990 463.9 L994 465.2 L998 466.5 L1002 467.8 L1006 469.1 L1010 470.4 L1014 471.7 L1018 473 L1022 474.3 L1026 475.6 L1030 476.9 L1034 478.2 L1038 479.5 L1042 480.9 L1046 482.2 L1050 483.5 L1054 484.8 L1058 486.1 L1062 487.4 L1066 488.7 L1070 490 L1074 491.4 L1078 492.7 L1082 494 L1086 495.3 L1090 496.7 L1094 498 L1098 499.3 L1102 500.7 L1106 502 L1110 503.4 L1114 504.7 L1118 506.1 L1122 507.4 L1126 508.8 L1130 510.2 L1134 511.5 L1138 512.9 L1142 514.3 L1146 515.6 L1150 517 L1154 518.4 L1158 519.7 L1162 521.1 L1166 522.5 L1170 523.9 L1174 525.2 L1178 526.6 L1182 528 L1186 529.4 L1190 530.8 L1194 532.1 L1198 533.5 L1202 534.9 L1206 536.3 L1210 537.6 L1214 539 L1218 540.4 L1222 541.8 L1226 543.2 L1230 544.6 L1234 546 L1238 547.4 L1242 548.8 L1246 550.2 L1250 551.5 L1254 552.9 L1258 554.3 L1262 555.7 L1266 557.1 L1270 558.5 L1274 559.9 L1278 561.3 L1282 562.6 L1286 564 L1290 565.4 L1294 566.8 L1298 568.1 L1302 569.5 L1306 570.8 L1310 572.2 L1314 573.5 L1318 574.9 L1322 576.2 L1326 577.6 L1330 578.9 L1334 580.3 L1338 581.6 L1342 582.9 L1346 584.3 L1350 585.6 L1354 586.9 L1358 588.3 L1362 589.6 L1366 590.9 L1370 592.3 L1374 593.6 L1378 594.9 L1382 596.3 L1386 597.6 L1390 599 L1394 600.3 L1398 601.6 L1402 603 L1406 604.3 L1410 605.7 L1414 607.1 L1418 608.5 L1422 609.9 L1426 611.2 L1430 612.6 L1434 614 L1438 615.4 L1442 616.7 L1446 618 L1450 619.3 L1454 620.6 L1458 621.9 L1462 623.1 L1466 624.3 L1470 625.4 L1474 626.4 L1478 627.5 L1482 628.5 L1486 629.6 L1490 630.7 L1494 631.8 L1498 633 L1502 634.4 L1506 635.8 L1510 637.3 L1514 638.8 L1518 640.5 L1522 642.1 L1526 643.8 L1530 645.5 L1534 647.2 L1538 648.9 L1542 650.5 L1546 652.1 L1550 653.6 L1554 655.1 L1558 656.6 L1562 658.1 L1566 659.6 L1570 661.1 L1574 662.6 L1578 664.1 L1582 665.5 L1586 667 L1590 668.6 L1594 670.1 L1598 671.6 L1602 673.2 L1606 674.7 L1610 676.3 L1614 677.8 L1618 679.4 L1622 680.9 L1624.2 681.8 L1635.5 684.9 L1653.5 694.6 L1669.3 699.2 L1682.9 706.6 L1695.3 694 L1708.9 719.5 L1725.8 729.2 L1748.4 741.4 L1770.9 754.5 L1793.5 770.3 L1816.1 786.1 L1834.2 803.1 L1852.2 819.5 L1870.3 836.9 L1883.8 846 L1897.4 867.4 L1908.7 882.1 L1922.2 886.6 L1933.5 905.8 L1943.7 919.3" stroke="#ff8c00"/>
<path d="M336 179.6 L340 179.7 L344 180.1 L348 180.6 L352 181.5 L356 183 L360 184.6 L364 186.3 L368 188.4 L372 190.5 L376 192.6 L380 194.6 L384 196.5 L388 198.8 L392 201.5 L396 204.9 L400 208.8 L404 212.9 L408 217 L412 220.9 L416 224.6 L420 228.3 L424 232.1 L428 236 L432 240.1 L436 244.6 L440 248.8 L444 252.6 L448 256.2 L452 259.6 L456 262.9 L460 266.1 L464 269.3 L468 272.4 L472 275.6 L476 278.9 L480 282.1 L484 285.3 L488 288.4 L492 291.4 L496 294.2 L500 296.9 L504 299.4 L508 301.8 L512 304.1 L516 306.3 L520 308.4 L524 310.4 L528 312.3 L532 314.1 L536 315.7 L540 317.3 L544 318.9 L548 320.3 L552 321.8 L556 323.1 L560 324.5 L564 325.8 L568 327.1 L572 328.4 L576 329.6 L580 330.8 L584 332 L588 333.2 L592 334.4 L596 335.6 L600 336.8 L604 338 L608 339.2 L612 340.5 L616 341.7 L620 342.9 L624 344.1 L628 345.3 L632 346.5 L636 347.7 L640 348.9 L644 350.1 L648 351.4 L652 352.6 L656 353.8 L660 355 L664 356.2 L668 357.5 L672 358.7 L676 359.9 L680 361.1 L684 362.4 L688 363.6 L692 364.8 L696 366.1 L700 367.3 L704 368.5 L708 369.8 L712 371 L716 372.3 L720 373.5 L724 374.8 L728 376 L732 377.3 L736 378.5 L740 379.8 L744 381 L748 382.3 L752 383.5 L756 384.8 L760 386.1 L764 387.3 L768 388.6 L772 389.8 L776 391.1 L780 392.4 L784 393.6 L788 394.9 L792 396.2 L796 397.4 L800 398.7 L804 400 L808 401.2 L812 402.5 L816 403.8 L820 405.1 L824 406.3 L828 407.6 L832 408.9 L836 410.2 L840 411.4 L844 412.7 L848 414 L852 415.3 L856 416.6 L860 417.9 L864 419.1 L868 420.4 L872 421.7 L876 423 L880 424.3 L884 425.6 L888 426.9 L892 428.2 L896 429.5 L900 430.8 L904 432.1 L908 433.4 L912 434.8 L916 436.1 L920 437.4 L924 438.7 L928 440 L932 441.3 L936 442.6 L940 444 L944 445.3 L948 446.6 L952 447.9 L956 449.2 L960 450.5 L964 451.8 L968 453.1 L972 454.4 L976 455.7 L980 457 L984 458.3 L988 459.6 L992 460.9 L996 462.2 L1000 463.5 L1004 464.8 L1008 466.1 L1012 467.4 L1016 468.7 L1020 470 L1024 471.3 L1028 472.6 L1032 473.9 L1036 475.2 L1040 476.5 L1044 477.8 L1048 479.1 L1052 480.4 L1056 481.7 L1060 483.1 L1064 484.4 L1068 485.7 L1072 487 L1076 488.3 L1080 489.6 L1084 491 L1088 492.3 L1092 493.6 L1096 495 L1100 496.3 L1104 497.7 L1108 499 L1112 500.3 L1116 501.7 L1120 503.1 L1124 504.4 L1128 505.8 L1132 507.1 L1136 508.5 L1140 509.9 L1144 511.2 L1148 512.6 L1152 514 L1156 515.4 L1160 516.7 L1164 518.1 L1168 519.5 L1172 520.9 L1176 522.2 L1180 523.6 L1184 525 L1188 526.4 L1192 527.8 L1196 529.1 L1200 530.5 L1204 531.9 L1208 533.3 L1212 534.7 L1216 536 L1220 537.4 L1224 538.8 L1228 540.2 L1232 541.6 L1236 543 L1240 544.4 L1244 545.8 L1248 547.2 L1252 548.6 L1256 550 L1260 551.4 L1264 552.8 L1268 554.2 L1272 555.6 L1276 557 L1280 558.4 L1284 559.7 L1288 561.1 L1292 562.5 L1296 563.8 L1300 565.2 L1304 566.6 L1308 567.9 L1312 569.3 L1316 570.6 L1320 572 L1324 573.3 L1328 574.6 L1332 576 L1336 577.3 L1340 578.6 L1344 580 L1348 581.3 L1352 582.6 L1356 583.9 L1360 585.3 L1364 586.6 L1368 587.9 L1372 589.2 L1376 590.5 L1380 591.9 L1384 593.2 L1388 594.5 L1392 595.8 L1396 597.2 L1400 598.5 L1404 599.8 L1408 601.2 L1412 602.6 L1416 604 L1420 605.3 L1424 606.7 L1428 608.1 L1432 609.5 L1436 610.8 L1440 612.2 L1444 613.5 L1448 614.8 L1452 616.1 L1456 617.3 L1460 618.5 L1464 619.7 L1468 620.8 L1472 621.8 L1476 622.8 L1480 623.8 L1484 624.8 L1488 625.8 L1492 626.9 L1496 628 L1500 629.2 L1504 630.5 L1508 631.8 L1512 633.3 L1516 634.8 L1520 636.3 L1524 637.9 L1528 639.5 L1532 641.1 L1536 642.7 L1540 644.2 L1544 645.7 L1548 647.1 L1552 648.6 L1556 650 L1560 651.3 L1564 652.7 L1568 654.1 L1572 655.5 L1576 656.9 L1580 658.3 L1584 659.7 L1588 661.1 L1592 662.5 L1596 664 L1600 665.4 L1604 666.9 L1608 668.4 L1612 669.8 L1616 671.3 L1620 672.8 L1624 674.4 L1628 675.9 L1632 677.5 L1636 679.1 L1640 680.7 L1644 682.3 L1648 683.9 L1652 685.6 L1656 687.2 L1660 688.9 L1664 690.6 L1668 692.4 L1672 694.1 L1676 695.9 L1680 697.8 L1684 699.6 L1688 701.6 L1692 703.6 L1696 705.7 L1700 707.7 L1704 709.7 L1708 711.7 L1712 713.7 L1716 715.7 L1720 717.7 L1724 719.7 L1728 721.7 L1732 723.7 L1736 725.8 L1740 727.8 L1744 729.8 L1748 731.7 L1752 733.7 L1756 735.5 L1760 737.4 L1764 739.2 L1768 741.2 L1772 743.4 L1776 745.6 L1780 748.1 L1784 750.6 L1788 753.2 L1792 755.8 L1796 758.4 L1800 761.1 L1804 763.9 L1808 766.7 L1812 769.6 L1816 772.5 L1816.1 772.6 L1827.4 781.6 L1843.2 796.3 L1856.7 805.3 L1870.3 820 L1883.8 834.7 L1897.4 846.6 L1909.8 851.6 L1922.2 869.7 L1933.5 883.2 L1943.7 897.9" stroke="#40d0c8"/>
<path d="M336 190.6 L340 191.9 L344 193.2 L348 194.5 L352 195.8 L356 197.2 L360 198.6 L364 200 L368 201.4 L372 202.8 L376 204.2 L380 205.6 L384 207 L388 208.4 L392 209.9 L396 211.3 L400 212.7 L404 214.2 L408 215.8 L412 217.5 L416 219.4 L420 221.4 L424 223.4 L428 225.3 L432 226.9 L436 228.6 L440 230.1 L444 231.6 L448 233 L452 234.3 L456 235.6 L458.1 236.2 L462.1 237.7 L466.1 239.2 L470.1 240.6 L474.1 242 L478.1 243.3 L482.1 244.6 L486.1 245.9 L490.1 247.1 L494.1 248.3 L498.1 249.4 L502.1 250.5 L506.1 251.6 L510.1 252.6 L514.1 253.5 L518.1 254.4 L522.1 255.2 L526.1 256 L530.1 256.7 L534.1 257.4 L538.1 258 L542.1 258.6 L546.1 259.1 L550.1 259.5 L554.1 259.8 L558.1 260.1 L562.1 260.4 L566.1 260.5 L570.1 260.6 L574.1 260.6 L578.1 260.6 L582.1 260.5 L586.1 260.3 L590.1 260.1 L594.1 259.8 L598.1 259.4 L602.1 259 L606.1 258.6 L610.1 258.1 L614.1 257.6 L618.1 257.1 L622.1 256.5 L626.1 255.8 L630.1 255.2 L634.1 254.5 L638.1 253.9 L642.1 253.2 L646.1 252.4 L650.1 251.7 L654.1 251 L658.1 250.3 L662.1 249.5 L666.1 248.8 L670.1 248 L674.1 247.2 L678.1 246.5 L682.1 245.7 L686.1 244.9 L690.1 244.2 L694.1 243.4 L698.1 242.6 L702.1 241.8 L706.1 241 L710.1 240.2 L714.1 239.4 L718.1 238.6 L722.1 237.8 L726.1 237 L730.1 236.2 L734.1 235.4 L738.1 234.6 L742.1 233.8 L746.1 233 L750.1 232.2 L754.1 231.4 L758.1 230.6 L762.1 229.8 L766.1 229 L770.1 228.3 L774.1 227.5 L778.1 226.7 L782.1 225.9 L786.1 225.1 L790.1 224.4 L794.1 223.6 L798.1 222.8 L802.1 222.1 L806.1 221.3 L810.1 220.6 L814.1 219.8 L818.1 219.1 L822.1 218.4 L826.1 217.6 L830.1 216.9 L834.1 216.2 L838.1 215.5 L842.1 214.8 L846.1 214.2 L850.1 213.5 L854.1 212.8 L858.1 212.1 L862.1 211.5 L866.1 210.8 L870.1 210.2 L874.1 209.5 L878.1 208.9 L882.1 208.3 L886.1 207.7 L890.1 207.1 L894.1 206.5 L898.1 205.9 L902.1 205.3 L906.1 204.7 L910.1 204.1 L914.1 203.5 L918.1 203 L922.1 202.4 L926.1 201.8 L930.1 201.3 L934.1 200.8 L938.1 200.2 L942.1 199.7 L946.1 199.2 L950.1 198.6 L954.1 198.1 L958.1 197.6 L962.1 197.1 L966.1 196.6 L970.1 196.2 L974.1 195.7 L978.1 195.2 L982.1 194.7 L986.1 194.3 L990.1 193.8 L994.1 193.4 L998.1 192.9 L1002.1 192.5 L1006.1 192 L1010.1 191.6 L1014.1 191.2 L1018.1 190.8 L1022.1 190.4 L1026.1 189.9 L1030.1 189.5 L1034.1 189.2 L1038.1 188.8 L1042.1 188.4 L1046.1 188 L1050.1 187.6 L1054.1 187.3 L1058.1 186.9 L1062.1 186.5 L1066.1 186.2 L1070.1 185.8 L1074.1 185.5 L1078.1 185.2 L1082.1 184.8 L1086.1 184.5 L1090.1 184.2 L1094.1 183.9 L1098.1 183.6 L1102.1 183.3 L1106.1 183 L1110.1 182.7 L1114.1 182.4 L1118.1 182.1 L1122.1 181.8 L1126.1 181.5 L1130.1 181.3 L1134.1 181 L1138.1 180.7 L1142.1 180.5 L1146.1 180.2 L1150.1 180 L1154.1 179.7 L1158.1 179.5 L1162.1 179.3 L1166.1 179 L1170.1 178.8 L1174.1 178.6 L1178.1 178.4 L1182.1 178.2 L1186.1 178 L1190.1 177.8 L1194.1 177.6 L1198.1 177.4 L1202.1 177.2 L1206.1 177 L1210.1 176.8 L1214.1 176.7 L1218.1 176.5 L1222.1 176.3 L1226.1 176.2 L1230.1 176 L1234.1 175.9 L1238.1 175.7 L1242.1 175.6 L1246.1 175.4 L1250.1 175.3 L1254.1 175.2 L1258.1 175 L1262.1 174.9 L1266.1 174.8 L1270.1 174.7 L1274.1 174.6 L1278.1 174.4 L1282.1 174.3 L1286.1 174.2 L1290.1 174.1 L1290.7 174.1 L1294.7 174.1 L1298.7 174.1 L1302.7 174.1 L1306.7 174.1 L1310.7 174.1 L1314.7 174.1 L1318.7 174.1 L1322.7 174.1 L1326.7 174.1 L1330.7 174.1 L1334.7 174.1 L1338.7 174.1 L1342.7 174.1 L1346.7 174.1 L1350.7 174.1 L1354.7 174.1 L1358.7 174.1 L1362.7 174.1 L1366.7 174.1 L1370.7 174.1 L1374.7 174.1 L1378.7 174.1 L1382.7 174.1 L1386.7 174.1 L1390.7 174.1 L1394.7 174.1 L1398.7 174.1 L1402.7 174.1 L1406.7 174.1 L1410.7 174.1 L1414.7 174.1 L1418.7 174.1 L1422.7 174.1 L1426.7 174.1 L1430.7 174.1 L1434.7 174.1 L1438.7 174.1 L1442.7 174.1 L1446.7 174.1 L1450.7 174.1 L1454.7 174.1 L1458.7 174.1 L1462.7 174.1 L1466.7 174.1 L1470.7 174.1 L1474.7 174.1 L1478.7 174.1 L1482.7 174.1 L1486.7 174.1 L1490.7 174.1 L1494.7 174.1 L1498.7 174.1 L1502.7 174.1 L1506.7 174.1 L1510.7 174.1 L1514.7 174.1 L1518.7 174.1 L1522.7 174.1 L1526.7 174.1 L1530.7 174.1 L1534.7 174.1 L1538.7 174.1 L1542.7 174.1 L1546.7 174.1 L1550.7 174.1 L1554.7 174.1 L1558.7 174.1 L1562.7 174.2 L1566.7 174.2 L1570.7 174.2 L1574.7 174.2 L1578.7 174.2 L1582.7 174.2 L1586.7 174.2 L1590.7 174.2 L1594.7 174.2 L1598.7 174.2 L1602.7 174.2 L1606.7 174.2 L1610.7 174.2 L1614.7 174.2 L1618.7 174.2 L1622.7 174.2 L1626.7 174.2 L1630.7 174.2 L1634.7 174.2 L1638.7 174.2 L1642.7 174.2 L1646.7 174.2 L1650.7 174.2 L1654.7 174.2 L1658.7 174.2 L1662.7 174.2 L1666.7 174.2 L1670.7 174.2 L1674.7 174.2 L1678.7 174.2 L1682.7 174.2 L1686.7 174.2 L1690.7 174.2 L1694.7 174.2 L1698.7 174.2 L1702.7 174.2 L1706.7 174.2 L1710.7 174.2 L1714.7 174.2 L1718.7 174.2 L1722.7 174.2 L1726.7 174.2 L1730.7 174.2 L1734.7 174.2 L1738.7 174.2 L1742.7 174.2 L1746.7 174.2 L1750.7 174.2 L1754.7 174.2 L1758.7 174.2 L1762.7 174.2 L1766.7 174.2 L1770.7 174.2 L1774.7 174.2 L1778.7 174.2 L1782.7 174.2 L1786.7 174.2 L1790.7 174.2 L1794.7 174.2 L1798.7 174.2 L1802.7 174.2 L1806.7 174.2 L1810.7 174.2 L1814.7 174.2 L1818.7 174.2 L1822.7 174.2 L1826.7 174.2 L1830.7 174.2 L1834.7 174.3 L1838.7 174.3 L1842.7 174.3 L1846.7 174.3 L1850.7 174.3 L1854.7 174.3 L1858.7 174.3 L1862.7 174.3 L1866.7 174.3 L1870.7 174.3 L1874.7 174.3 L1878.7 174.3 L1882.7 174.3 L1886.7 174.3 L1890.7 174.3 L1894.7 174.3 L1898.7 174.3 L1902.7 174.3 L1906.7 174.3 L1910.7 174.3 L1914.7 174.3 L1918.7 174.3 L1922.7 174.3 L1925 174.3" stroke="#bc8f8f"/>
<path d="M336 200.7 L340 202.6 L344 204.3 L348 205.7 L352 207 L356 208.1 L360 209.2 L364 210.2 L368 211.2 L372 212.1 L376 213.1 L380 214.2 L384 215.4 L388 216.8 L392 218.2 L396 219.5 L400 220.8 L404 222.3 L408 223.9 L412 225.6 L416 227 L420 228.3 L424 229.6 L428 230.8 L432 232.1 L436 233.4 L440 234.9 L444 236.7 L448 238.7 L452 240.8 L456 243 L460 245.4 L464 248 L468 250.4 L472 252.5 L476 254.6 L480 256.5 L484 258.3 L488 260.1 L492 261.8 L496 263.5 L500 265 L504 266.6 L508 268 L512 269.4 L516 270.8 L520 272.1 L524 273.4 L528 274.6 L532 275.8 L536 276.9 L540 278 L544 279.1 L548 280.1 L552 281.1 L556 282.1 L559.8 282.9 L563.8 283.8 L567.8 284.7 L571.8 285.5 L575.8 286.3 L579.8 287.1 L583.8 287.9 L587.8 288.6 L591.8 289.2 L595.8 289.9 L599.8 290.5 L603.8 291.1 L607.8 291.6 L611.8 292.1 L615.8 292.6 L619.8 293.1 L623.8 293.5 L627.8 293.9 L631.8 294.3 L635.8 294.6 L639.8 294.9 L643.8 295.2 L647.8 295.5 L651.8 295.7 L655.8 296 L659.8 296.2 L663.8 296.3 L667.8 296.5 L671.8 296.6 L675.8 296.7 L679.8 296.8 L683.8 296.8 L687.8 296.8 L691.8 296.9 L695.8 296.9 L699.8 296.8 L703.8 296.8 L707.8 296.7 L711.8 296.6 L715.8 296.5 L719.8 296.4 L723.8 296.3 L727.8 296.1 L731.8 295.9 L735.8 295.8 L739.8 295.6 L743.8 295.4 L747.8 295.1 L751.8 294.9 L755.8 294.6 L759.8 294.4 L763.8 294.1 L767.8 293.8 L771.8 293.5 L775.8 293.2 L779.8 292.9 L783.8 292.5 L787.8 292.2 L791.8 291.8 L795.8 291.5 L799.8 291.1 L803.8 290.8 L807.8 290.4 L811.8 290 L815.8 289.6 L819.8 289.2 L823.8 288.8 L827.8 288.4 L831.8 288 L835.8 287.6 L839.8 287.2 L843.8 286.7 L847.8 286.3 L851.8 285.9 L855.8 285.5 L859.8 285 L863.8 284.6 L867.8 284.2 L871.8 283.8 L875.8 283.3 L879.8 282.9 L883.8 282.4 L887.8 282 L891.8 281.6 L895.8 281.1 L899.8 280.7 L903.8 280.2 L907.8 279.8 L911.8 279.4 L915.8 278.9 L919.8 278.5 L923.8 278 L927.8 277.6 L931.8 277.1 L935.8 276.7 L939.8 276.2 L943.8 275.8 L947.8 275.4 L951.8 274.9 L955.8 274.5 L959.8 274 L963.8 273.6 L967.8 273.1 L971.8 272.7 L975.8 272.2 L979.8 271.8 L983.8 271.4 L987.8 270.9 L991.8 270.5 L995.8 270 L999.8 269.6 L1003.8 269.2 L1007.8 268.7 L1011.8 268.3 L1015.8 267.9 L1019.8 267.5 L1023.8 267 L1027.8 266.6 L1031.8 266.2 L1035.8 265.8 L1039.8 265.3 L1043.8 264.9 L1047.8 264.5 L1051.8 264.1 L1055.8 263.7 L1059.8 263.3 L1063.8 262.9 L1067.8 262.5 L1071.8 262.1 L1075.8 261.7 L1079.8 261.3 L1083.8 260.9 L1087.8 260.5 L1091.8 260.2 L1095.8 259.8 L1099.8 259.4 L1103.8 259 L1107.8 258.6 L1111.8 258.3 L1115.8 257.9 L1119.8 257.5 L1123.8 257.2 L1127.8 256.8 L1131.8 256.5 L1135.8 256.1 L1139.8 255.8 L1143.8 255.4 L1147.8 255.1 L1151.8 254.7 L1155.8 254.4 L1159.8 254 L1163.8 253.7 L1167.8 253.3 L1171.8 253 L1175.8 252.7 L1179.8 252.4 L1183.8 252 L1187.8 251.7 L1191.8 251.4 L1195.8 251.1 L1199.8 250.7 L1203.8 250.4 L1207.8 250.1 L1211.8 249.8 L1215.8 249.5 L1219.8 249.2 L1223.8 248.9 L1227.8 248.6 L1231.8 248.3 L1235.8 248 L1239.8 247.7 L1243.8 247.4 L1247.8 247.1 L1251.8 246.8 L1255.8 246.5 L1259.8 246.3 L1263.8 246 L1267.8 245.7 L1271.8 245.4 L1275.8 245.1 L1279.8 244.9 L1283.8 244.6 L1287.8 244.3 L1291.8 244.1 L1295.8 243.8 L1299.8 243.5 L1303.8 243.3 L1307.8 243 L1311.8 242.8 L1315.8 242.5 L1319.8 242.2 L1323.8 242 L1327.8 241.7 L1331.8 241.5 L1335.8 241.3 L1339.8 241 L1343.8 240.8 L1347.8 240.5 L1351.8 240.3 L1355.8 240.1 L1359.8 239.8 L1363.8 239.6 L1367.8 239.4 L1371.8 239.1 L1375.8 238.9 L1379.8 238.7 L1383.8 238.5 L1387.8 238.2 L1391.8 238 L1395.8 237.8 L1399.8 237.6 L1403.8 237.4 L1407.8 237.2 L1411.8 237 L1415.8 236.8 L1419.8 236.5 L1423.8 236.3 L1427.8 236.1 L1431.8 235.9 L1435.8 235.7 L1439.8 235.5 L1443.8 235.3 L1447.8 235.2 L1451.8 235 L1455.8 234.8 L1459.8 234.6 L1463.8 234.4 L1467.8 234.2 L1471.8 234 L1475.8 233.8 L1479.8 233.7 L1483.8 233.5 L1487.8 233.3 L1491.8 233.1 L1495.8 233 L1499.8 232.8 L1503.8 232.6 L1507.8 232.4 L1511.8 232.3 L1515.8 232.1 L1519.8 231.9 L1523.8 231.8 L1527.8 231.6 L1531.8 231.5 L1535.8 231.3 L1539.8 231.1 L1543.8 231 L1547.8 230.8 L1551.8 230.7 L1555.8 230.5 L1559.8 230.4 L1563.8 230.2 L1567.8 230.1 L1571.8 229.9 L1575.8 229.8 L1579.8 229.6 L1583.8 229.5 L1587.8 229.3 L1591.8 229.2 L1595.8 229.1 L1599.8 228.9 L1603.8 228.8 L1607.8 228.7 L1611.8 228.5 L1615.8 228.4 L1617.4 228.3 L1621.4 228.3 L1625.4 228.3 L1629.4 228.3 L1633.4 228.3 L1637.4 228.3 L1641.4 228.3 L1645.4 228.3 L1649.4 228.3 L1653.4 228.3 L1657.4 228.3 L1661.4 228.3 L1665.4 228.3 L1669.4 228.3 L1673.4 228.3 L1677.4 228.3 L1681.4 228.3 L1685.4 228.3 L1689.4 228.3 L1693.4 228.3 L1697.4 228.3 L1701.4 228.3 L1705.4 228.3 L1709.4 228.3 L1713.4 228.3 L1717.4 228.3 L1721.4 228.3 L1725.4 228.3 L1729.4 228.3 L1733.4 228.3 L1737.4 228.3 L1741.4 228.3 L1745.4 228.3 L1749.4 228.3 L1753.4 228.3 L1757.4 228.3 L1761.4 228.3 L1765.4 228.3 L1769.4 228.3 L1773.4 228.3 L1777.4 228.3 L1781.4 228.3 L1785.4 228.3 L1786.7 228.3 L1793.5 227.2 L1811.6 227.2 L1816.1 228.6 L1924.9 228.3" stroke="#9400d3"/>
<path d="M336 162 L340 165.4 L344 168.9 L348 172.5 L352 176.1 L356 179.8 L360 183.5 L364 187.4 L368 191.3 L372 195.4 L376 199.4 L380 203.5 L384 207.7 L388 211.9 L392 216.2 L396 220.4 L400 224.4 L404 228.3 L408 232 L412 235.7 L416 239.4 L420 243.1 L424 246.9 L428 250.8 L432 254.7 L436 258.6 L440 262.5 L444 266.5 L448 270.6 L452 274.8 L456 278.9 L460 283 L464 287.1 L468 291.3 L472 295.4 L476 299.6 L480 303.7 L484 307.9 L488 312.4 L492 316.9 L496 321.3 L500 325.4 L504 329 L508 332.7 L512 336.3 L516 339.7 L520 342.9 L524 346 L528 349 L532 351.7 L536 354.1 L540 356.4 L544 358.7 L548 360.7 L552 362.5 L556 364.1 L560 365.7 L564 367.3 L568 368.9 L572 370.4 L576 371.9 L580 373.3 L584 374.6 L588 376 L592 377.3 L596 378.6 L600 379.9 L604 381.1 L608 382.2 L612 383.4 L616 384.4 L620 385.5 L624 386.5 L628 387.5 L632 388.5 L636 389.5 L640 390.4 L644 391.4 L648 392.3 L649.8 392.7 L653.8 393.7 L657.8 394.8 L661.8 395.9 L665.8 397 L669.8 398.1 L673.8 399.1 L677.8 400.3 L681.8 401.4 L685.8 402.5 L689.8 403.6 L693.8 404.8 L697.8 405.9 L701.8 407.1 L705.8 408.2 L709.8 409.4 L713.8 410.6 L717.8 411.8 L721.8 413 L725.8 414.2 L729.8 415.4 L733.8 416.6 L737.8 417.8 L741.8 419 L745.8 420.2 L749.8 421.5 L753.8 422.7 L757.8 424 L761.8 425.2 L765.8 426.5 L769.8 427.7 L773.8 429 L777.8 430.3 L781.8 431.5 L785.8 432.8 L789.8 434.1 L793.8 435.4 L797.8 436.7 L801.8 437.9 L805.8 439.2 L809.8 440.5 L813.8 441.8 L817.8 443.1 L821.8 444.4 L825.8 445.7 L829.8 447 L833.8 448.4 L837.8 449.7 L841.8 451 L845.8 452.3 L849.8 453.6 L853.8 454.9 L857.8 456.2 L861.8 457.5 L865.8 458.9 L869.8 460.2 L873.8 461.5 L877.8 462.8 L881.8 464.1 L885.8 465.4 L889.8 466.8 L893.8 468.1 L897.8 469.4 L901.8 470.7 L905.8 472 L909.8 473.3 L913.8 474.7 L917.8 476 L921.8 477.3 L925.8 478.6 L929.8 480 L933.8 481.3 L937.8 482.6 L941.8 483.9 L945.8 485.3 L949.8 486.6 L953.8 487.9 L957.8 489.2 L961.8 490.6 L965.8 491.9 L969.8 493.2 L973.8 494.6 L977.8 495.9 L981.8 497.2 L985.8 498.6 L989.8 499.9 L993.8 501.3 L997.8 502.6 L1001.8 503.9 L1005.8 505.3 L1009.8 506.6 L1013.8 508 L1017.8 509.3 L1021.8 510.7 L1025.8 512 L1029.8 513.4 L1033.8 514.7 L1037.8 516.1 L1041.8 517.4 L1045.8 518.8 L1049.8 520.2 L1053.8 521.5 L1057.8 522.9 L1061.8 524.3 L1065.8 525.6 L1069.8 527 L1073.8 528.4 L1077.8 529.7 L1081.8 531.1 L1085.8 532.5 L1089.8 533.9 L1093.8 535.3 L1097.8 536.6 L1101.8 538 L1105.8 539.4 L1109.8 540.8 L1113.8 542.2 L1117.8 543.6 L1121.8 545 L1125.8 546.4 L1129.8 547.8 L1133.8 549.2 L1137.8 550.6 L1141.8 552 L1145.8 553.4 L1149.8 554.8 L1153.8 556.2 L1157.8 557.6 L1161.8 559.1 L1165.8 560.5 L1169.8 561.9 L1173.8 563.3 L1177.8 564.7 L1181.8 566.2 L1185.8 567.6 L1189.8 569 L1193.8 570.4 L1197.8 571.9 L1201.8 573.3 L1205.8 574.7 L1209.8 576.2 L1213.8 577.6 L1217.8 579.1 L1221.8 580.5 L1225.8 581.9 L1229.8 583.4 L1233.8 584.8 L1237.8 586.3 L1241.8 587.7 L1245.8 589.2 L1249.8 590.6 L1253.8 592.1 L1257.8 593.5 L1261.8 595 L1265.8 596.4 L1269.8 597.9 L1273.8 599.3 L1277.8 600.8 L1281.8 602.2 L1285.8 603.7 L1289.8 605.2 L1293.8 606.6 L1297.8 608.1 L1301.8 609.5 L1305.8 611 L1309.8 612.5 L1313.8 613.9 L1317.8 615.4 L1321.8 616.9 L1325.8 618.3 L1329.8 619.8 L1333.8 621.3 L1337.8 622.7 L1341.8 624.2 L1345.8 625.7 L1349.8 627.1 L1353.8 628.6 L1357.8 630.1 L1361.8 631.6 L1365.8 633 L1369.8 634.5 L1373.8 636 L1377.8 637.5 L1381.8 638.9 L1385.8 640.4 L1389.8 641.9 L1393.8 643.4 L1397.8 644.8 L1401.8 646.3 L1405.8 647.8 L1409.8 649.3 L1413.8 650.7 L1417.8 652.2 L1421.8 653.7 L1425.8 655.2 L1429.8 656.7 L1433.8 658.1 L1437.8 659.6 L1441.8 661.1 L1445.8 662.6 L1449.8 664 L1453.8 665.5 L1457.8 667 L1461.8 668.5 L1465.8 669.9 L1469.8 671.4 L1473.8 672.9 L1477.8 674.4 L1481.8 675.9 L1485.8 677.4 L1489.8 678.9 L1493.8 680.4 L1497.8 681.9 L1501.8 683.4 L1505.8 684.9 L1509.8 686.4 L1513.8 688 L1517.8 689.5 L1521.8 691.1 L1525.8 692.7 L1529.8 694.3 L1533.8 695.9 L1537.8 697.5 L1541.8 699.2 L1545.8 700.8 L1549.8 702.5 L1553.8 704.2 L1557.8 705.9 L1561.8 707.6 L1565.8 709.4 L1569.8 711.2 L1573.8 713 L1577.8 714.8 L1581.8 716.6 L1585.8 718.5 L1589.8 720.4 L1593.8 722.3 L1597.8 724.3 L1601.8 726.3 L1605.8 728.3 L1609.8 730.3 L1613.8 732.4 L1617.8 734.5 L1621.8 736.7 L1625.8 738.9 L1629.8 741.1 L1633.8 743.3 L1637.8 745.6 L1641.8 747.9 L1645.8 750.3 L1649.8 752.7 L1653.8 755.2 L1657.8 757.7 L1661.8 760.2 L1665.8 762.8 L1669.8 765.4 L1673.8 768.1 L1677.8 770.8 L1681.8 773.5 L1685.8 776.3 L1689.8 779.2 L1693.8 782.1 L1697.8 785.1 L1701.8 788.1 L1705.8 791.2 L1709.8 794.3 L1713.8 797.5 L1717.8 800.7 L1721.8 804 L1725.8 807.4 L1729.8 810.8 L1733.8 814.2 L1737.8 817.8 L1741.8 821.4 L1745.8 825.1 L1749.8 828.9 L1753.8 832.9 L1757.8 836.9 L1761.8 841 L1765.8 845.2 L1769.8 849.6 L1773.8 854.1 L1777.8 858.7 L1781.8 863.5 L1785.8 868.4 L1789.8 873.5 L1793.8 878.8 L1797.8 884.2 L1801.8 889.8 L1805.8 895.5 L1809.8 901.3 L1813.8 907.3 L1817.8 913.4 L1821.8 919.5 L1825.8 925.8 L1829.8 932.1 L1833.8 938.4 L1837.8 944.8 L1841.8 951.3 L1845.8 957.7 L1849.8 964.3 L1853.8 970.9 L1857.8 977.6 L1861.8 984.5 L1865.8 991.4 L1869.8 998.6 L1873.8 1005.9 L1877.8 1013.4 L1881.8 1021 L1885.8 1028.9 L1889.8 1037 L1893.8 1045.3 L1897.8 1053.8 L1901.8 1062.6 L1905.8 1071.6 L1909.8 1081 L1913.8 1090.6 L1917.8 1100.5 L1921.8 1110.8 L1925.8 1121.3 L1929.8 1132.2 L1933.8 1143.5 L1937.8 1155.1 L1941.8 1167.1 L1942.7 1170" stroke="#ff00cc"/>
<path d="M336 202.7 L340 202.9 L344 203.2 L348 203.5 L352 203.9 L356 204.3 L360 204.7 L364 205.2 L368 205.8 L372 206.6 L376 207.6 L380 208.9 L384 210.3 L388 211.9 L392 213.4 L396 215.2 L400 217.1 L404 219.1 L408 221.1 L412 223.1 L416 225 L420 226.9 L424 228.9 L428 231 L432 233.3 L436 235.9 L440 238.6 L444 241.2 L448 243.7 L452 246.2 L456 248.8 L460 251.2 L464 253.7 L468 256.1 L472 258.4 L476 260.8 L480 263.1 L484 265.4 L488 267.7 L492 269.9 L496 272 L500 274 L504 276 L508 277.9 L512 279.7 L516 281.5 L520 283.2 L524 284.9 L528 286.5 L532 288.1 L536 289.6 L540 291 L544 292.4 L548 293.8 L552 295.1 L556 296.4 L560 297.6 L564 298.8 L568 299.9 L572 301 L576 302.1 L580 303.1 L584 304.1 L588 305.1 L592 306.1 L596 307.1 L600 308.1 L604 309.1 L608 310.1 L612 311.1 L616 312.1 L620 313 L624 314 L628 315 L632 315.9 L636 316.9 L640 317.8 L644 318.7 L648 319.7 L652 320.6 L656 321.5 L660 322.4 L664 323.3 L668 324.2 L672 325.1 L676 325.9 L680 326.8 L684 327.6 L688 328.5 L692 329.3 L696 330.2 L700 331 L704 331.9 L708 332.7 L712 333.6 L716 334.5 L720 335.4 L724 336.3 L728 337.2 L732 338.1 L736 339 L740 339.9 L744 340.8 L748 341.7 L752 342.5 L756 343.4 L760 344.3 L764 345.1 L768 346 L772 346.8 L776 347.6 L780 348.4 L784 349.2 L788 349.9 L792 350.6 L796 351.3 L800 352 L804 352.7 L808 353.3 L812 353.9 L816 354.4 L820 354.9 L824 355.4 L828 355.8 L832 356.3 L836 356.6 L840 356.9 L844 357.2 L848 357.4 L852 357.7 L856 357.8 L860 358 L860.6 358 L888.7 359.4 L928.8 360 L960.9 358.6 L983 360 L1011.1 358 L1041.2 357 L1071.3 355.6 L1099.4 353.4 L1140.1 350.9 L1180.3 348.5 L1220.4 347.3 L1256.5 344.5 L1270.6 345.9 L1300.7 343.9 L1330.8 341.5 L1381 340.3 L1421.1 338.5 L1461.3 336.9 L1499.4 334.9 L1551.9 333.3 L1601.6 331.3 L1644.5 329.5 L1680.6 326.6 L1716.8 326.1 L1734.8 323.4 L1759.7 323.2 L1789 320.5 L1816.1 318.9 L1843.2 317.5 L1870.3 314.8 L1901.9 313.2 L1924.9 313" stroke="#ff00cc"/>
</g>
<path d="M984 459.7 L1543.5 651.9" fill="none" stroke="#000" stroke-width="8.3" stroke-dasharray="17.7 20.7" stroke-linecap="round"/>
<g stroke="#000" stroke-width="2" fill="none">
<path d="M336.0 31.700000000000003 V1370.9 H1943.0 V31.700000000000003" stroke-linecap="square"/>
<path d="M335.0 32.4 H1944.0" stroke-width="1.3"/>
</g>
<text x="154.9" y="143.7" font-size="69.5" textLength="68.5" lengthAdjust="spacingAndGlyphs">10</text>
<text x="221.3" y="103.6" font-size="41.6">−1</text>
<text x="154.9" y="322.2" font-size="69.5" textLength="68.5" lengthAdjust="spacingAndGlyphs">10</text>
<text x="221.3" y="282.1" font-size="41.6">−3</text>
<text x="154.9" y="500.7" font-size="69.5" textLength="68.5" lengthAdjust="spacingAndGlyphs">10</text>
<text x="221.3" y="460.6" font-size="41.6">−5</text>
<text x="154.9" y="679.2" font-size="69.5" textLength="68.5" lengthAdjust="spacingAndGlyphs">10</text>
<text x="221.3" y="639.1" font-size="41.6">−7</text>
<text x="154.9" y="857.7" font-size="69.5" textLength="68.5" lengthAdjust="spacingAndGlyphs">10</text>
<text x="221.3" y="817.6" font-size="41.6">−9</text>
<text x="120.7" y="1036.2" font-size="69.5" textLength="68.5" lengthAdjust="spacingAndGlyphs">10</text>
<text x="187.1" y="996.2" font-size="41.6">−11</text>
<text x="120.7" y="1214.7" font-size="69.5" textLength="68.5" lengthAdjust="spacingAndGlyphs">10</text>
<text x="187.1" y="1174.7" font-size="41.6">−13</text>
<text x="120.7" y="1393.2" font-size="69.5" textLength="68.5" lengthAdjust="spacingAndGlyphs">10</text>
<text x="187.1" y="1353.2" font-size="41.6">−15</text>
<text x="285.6" y="1451" font-size="69.5" textLength="68.5" lengthAdjust="spacingAndGlyphs">10</text>
<text x="352" y="1411" font-size="41.6">0</text>
<text x="687.3" y="1451" font-size="69.5" textLength="68.5" lengthAdjust="spacingAndGlyphs">10</text>
<text x="753.7" y="1411" font-size="41.6">1</text>
<text x="1089.1" y="1451" font-size="69.5" textLength="68.5" lengthAdjust="spacingAndGlyphs">10</text>
<text x="1155.5" y="1411" font-size="41.6">2</text>
<text x="1490.8" y="1451" font-size="69.5" textLength="68.5" lengthAdjust="spacingAndGlyphs">10</text>
<text x="1557.2" y="1411" font-size="41.6">3</text>
<text x="1892.6" y="1451" font-size="69.5" textLength="68.5" lengthAdjust="spacingAndGlyphs">10</text>
<text x="1959" y="1411" font-size="41.6">4</text>
<text x="1140" y="1543.3" font-size="92" text-anchor="middle">t</text>
<text transform="translate(94.4 710) rotate(-90) scale(1.07 1)" font-size="93.5" text-anchor="middle">Ω</text>
<g stroke="#000" stroke-width="2" fill="none">
<rect x="520.0" y="643.9" width="690.0" height="593.1" fill="#fff"/>
<path d="M623.9 1237.0 v-11 M623.9 643.9 v11 M684.6 1237.0 v-11 M684.6 643.9 v11 M727.7 1237.0 v-11 M727.7 643.9 v11 M761.1 1237.0 v-11 M761.1 643.9 v11 M788.5 1237.0 v-11 M788.5 643.9 v11 M811.6 1237.0 v-11 M811.6 643.9 v11 M831.6 1237.0 v-11 M831.6 643.9 v11 M849.2 1237.0 v-11 M849.2 643.9 v11 M865 1237.0 v-21 M865 643.9 v21 M968.9 1237.0 v-11 M968.9 643.9 v11 M1029.6 1237.0 v-11 M1029.6 643.9 v11 M1072.7 1237.0 v-11 M1072.7 643.9 v11 M1106.1 1237.0 v-11 M1106.1 643.9 v11 M1133.5 1237.0 v-11 M1133.5 643.9 v11 M1156.6 1237.0 v-11 M1156.6 643.9 v11 M1176.6 1237.0 v-11 M1176.6 643.9 v11 M1194.2 1237.0 v-11 M1194.2 643.9 v11 M520.0 762.5 h21 M1210.0 762.5 h-21 M520.0 881.1 h21 M1210.0 881.1 h-21 M520.0 999.8 h21 M1210.0 999.8 h-21 M520.0 1118.4 h21 M1210.0 1118.4 h-21"/>
</g>
<text x="399.9" y="662.8" font-size="58.5" textLength="57.6" lengthAdjust="spacingAndGlyphs">10</text>
<text x="454.7" y="629.8" font-size="34.8">0</text>
<text x="367.8" y="781.5" font-size="58.5" textLength="57.6" lengthAdjust="spacingAndGlyphs">10</text>
<text x="422.6" y="748.5" font-size="34.8">−2</text>
<text x="367.8" y="900.1" font-size="58.5" textLength="57.6" lengthAdjust="spacingAndGlyphs">10</text>
<text x="422.6" y="867.1" font-size="34.8">−4</text>
<text x="367.8" y="1018.7" font-size="58.5" textLength="57.6" lengthAdjust="spacingAndGlyphs">10</text>
<text x="422.6" y="985.7" font-size="34.8">−6</text>
<text x="367.8" y="1137.4" font-size="58.5" textLength="57.6" lengthAdjust="spacingAndGlyphs">10</text>
<text x="422.6" y="1104.4" font-size="34.8">−8</text>
<text x="339.2" y="1255.4" font-size="58.5" textLength="57.6" lengthAdjust="spacingAndGlyphs">10</text>
<text x="394" y="1222.4" font-size="34.8">−10</text>
<text x="461.3" y="1304" font-size="58.5" textLength="57.6" lengthAdjust="spacingAndGlyphs">10</text>
<text x="516.1" y="1271" font-size="34.8">−1</text>
<text x="822.9" y="1304" font-size="58.5" textLength="57.6" lengthAdjust="spacingAndGlyphs">10</text>
<text x="877.7" y="1271" font-size="34.8">0</text>
<text x="1166.5" y="1304" font-size="58.5" textLength="57.6" lengthAdjust="spacingAndGlyphs">10</text>
<text x="1221.3" y="1271" font-size="34.8">1</text>
<text x="1236" y="1236.9" font-size="56">K</text>
<text transform="translate(468.6 615.9) scale(1.05 1)" font-size="58">Ω</text>
<g stroke="#ff0000" fill="none">
<path d="M811.5 825 L849 879.2 L871.1 898.6 L925.5 937.9 L968.8 968.6 L1028.7 991.3 L1105.5 1075.5 L1132.8 1090.8 L1155.9 1096.3" stroke-width="2.0"/>
<path d="M772.5 824.4 h78 M772.5 825.6 h78 M811.5 824.4 V825.6 M810 878 h78 M810 880.4 h78 M849 878 V880.4 M832.1 898.4 h78 M832.1 898.8 h78 M871.1 898.4 V898.8 M886.5 937.7 h78 M886.5 938.1 h78 M925.5 937.7 V938.1 M929.8 959.7 h78 M929.8 973.2 h78 M968.8 959.7 V973.2 M989.7 977.8 h78 M989.7 999 h78 M1028.7 977.8 V999 M1066.5 1047.8 h78 M1066.5 1092 h78 M1105.5 1047.8 V1092 M1093.8 1061.6 h78 M1093.8 1108 h78 M1132.8 1061.6 V1108 M1116.9 1068.7 h78 M1116.9 1112.6 h78 M1155.9 1068.7 V1112.6" stroke-width="1.8"/>
</g>
<g fill="#ff0000">
<rect x="803" y="816.5" width="17" height="17"/>
<rect x="840.5" y="870.7" width="17" height="17"/>
<rect x="862.6" y="890.1" width="17" height="17"/>
<rect x="917" y="929.4" width="17" height="17"/>
<rect x="960.3" y="960.1" width="17" height="17"/>
<rect x="1020.2" y="982.8" width="17" height="17"/>
<rect x="1097" y="1067" width="17" height="17"/>
<rect x="1124.3" y="1082.3" width="17" height="17"/>
<rect x="1147.4" y="1087.8" width="17" height="17"/>
</g>
<g stroke="#000000" fill="none">
<path d="M520 702.2 L624 704.3 L727.1 718.7 L760.8 738.7 L788.4 773.9 L811.5 825 L831.6 913 L848.8 996 L865.3 1067.9 L868.3 1147" stroke-width="1.9"/>
<path d="M481 702 h78 M481 702.4 h78 M520 702 V702.4 M585 704.1 h78 M585 704.5 h78 M624 704.1 V704.5 M688.1 718.5 h78 M688.1 718.9 h78 M727.1 718.5 V718.9 M721.8 738.5 h78 M721.8 738.9 h78 M760.8 738.5 V738.9 M749.4 773.7 h78 M749.4 774.1 h78 M788.4 773.7 V774.1 M772.5 824.4 h78 M772.5 825.6 h78 M811.5 824.4 V825.6 M792.6 910.7 h78 M792.6 914 h78 M831.6 910.7 V914 M809.8 984.1 h78 M809.8 996.9 h78 M848.8 984.1 V996.9 M826.3 1031.2 h78 M826.3 1091 h78 M865.3 1031.2 V1091 M829.3 1115.8 h78 M829.3 1203.7 h78 M868.3 1115.8 V1203.7" stroke-width="1.8"/>
</g>
<g fill="#000000">
<circle cx="520" cy="702.2" r="12.3"/>
<circle cx="624" cy="704.3" r="12.3"/>
<circle cx="727.1" cy="718.7" r="12.3"/>
<circle cx="760.8" cy="738.7" r="12.3"/>
<circle cx="788.4" cy="773.9" r="12.3"/>
<circle cx="811.5" cy="825" r="12.3"/>
<circle cx="831.6" cy="913" r="12.3"/>
<circle cx="848.8" cy="996" r="12.3"/>
<circle cx="865.3" cy="1067.9" r="12.3"/>
<circle cx="868.3" cy="1147" r="12.3"/>
</g>
</svg></body></html>
